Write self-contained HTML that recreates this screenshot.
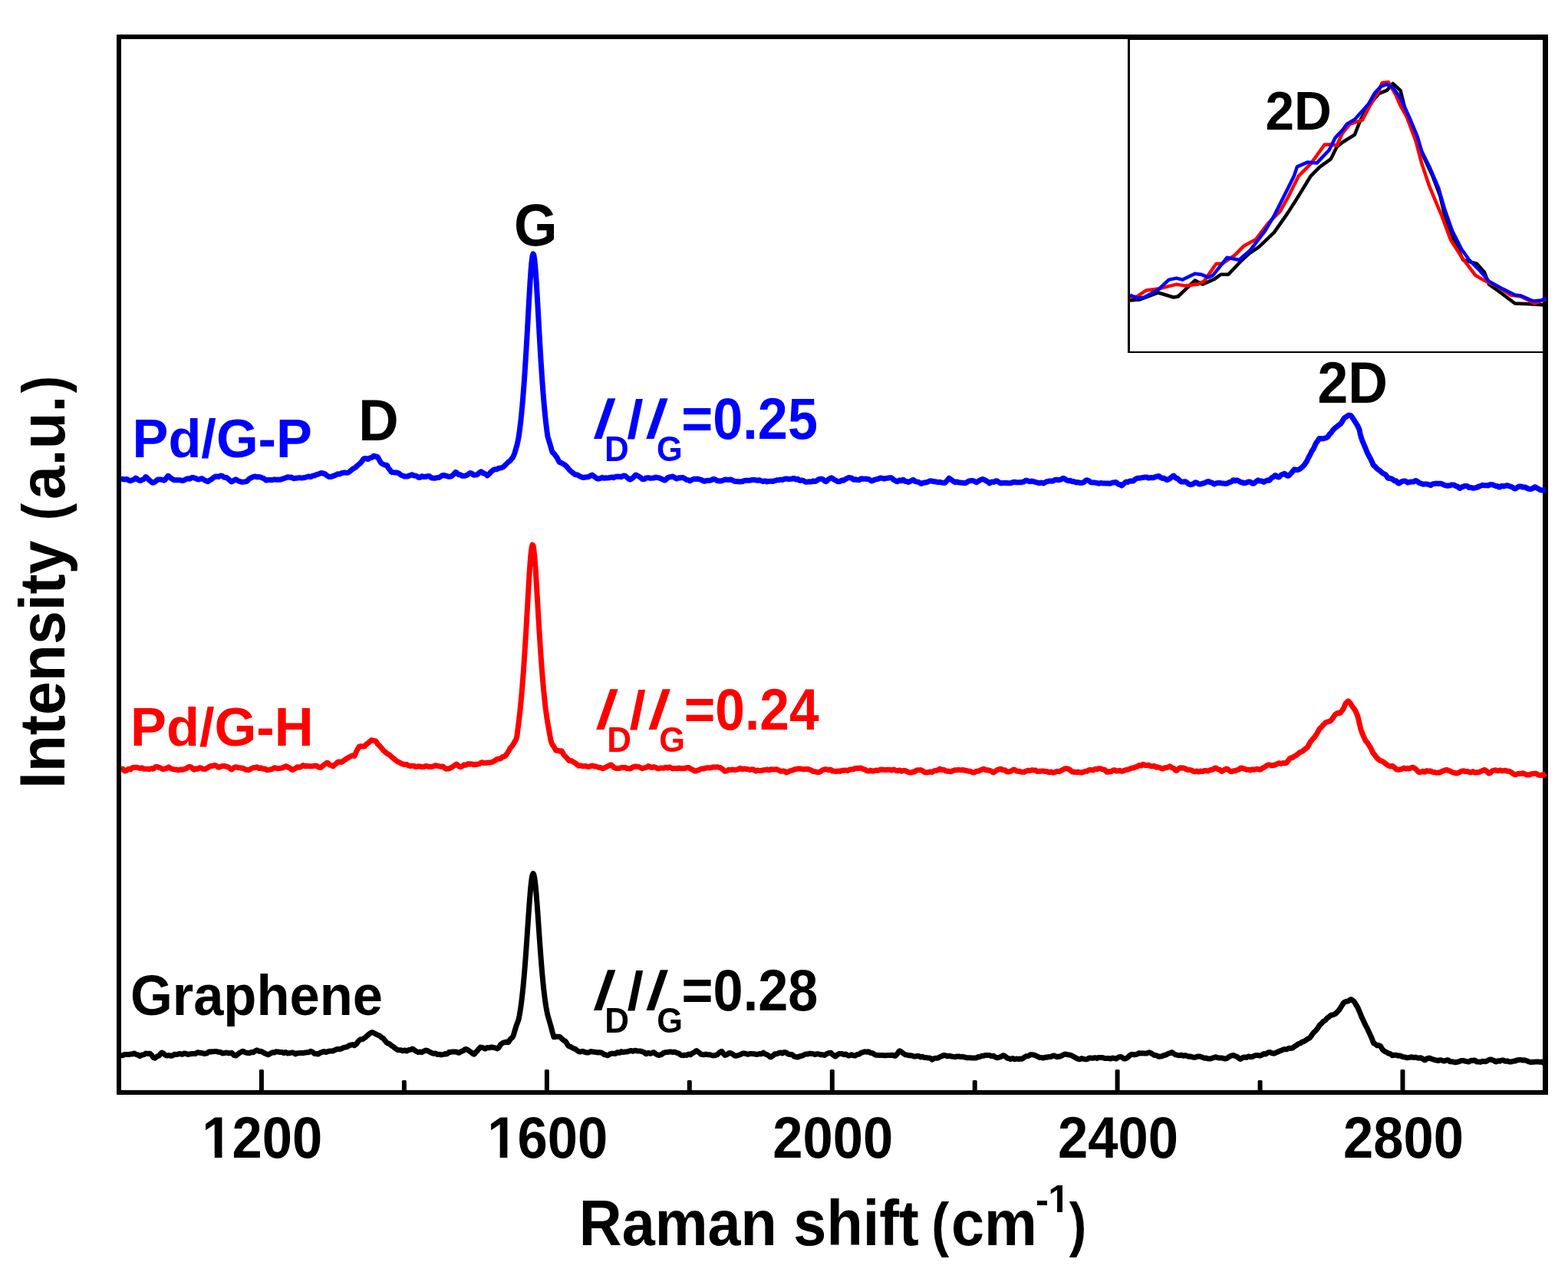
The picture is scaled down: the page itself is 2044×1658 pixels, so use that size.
<!DOCTYPE html>
<html><head><meta charset="utf-8"><title>Raman spectra</title>
<style>html,body{margin:0;padding:0;background:#fff;overflow:hidden}svg{display:block}text{font-family:"Liberation Sans",Arial,sans-serif;font-weight:bold;font-kerning:none;font-variant-ligatures:none}</style></head><body>
<svg width="2044" height="1658" viewBox="0 0 2044 1658">
<rect x="0" y="0" width="2044" height="1658" fill="#fff"/>
<rect x="152" y="45" width="6" height="1382" fill="#000"/>
<rect x="2011" y="45" width="7" height="1382" fill="#000"/>
<rect x="152" y="45" width="1866" height="6" fill="#000"/>
<rect x="152" y="1421" width="1866" height="6" fill="#000"/>
<rect x="337.9" y="1394" width="6" height="28" rx="1.5" fill="#000"/>
<rect x="709.9" y="1394" width="6" height="28" rx="1.5" fill="#000"/>
<rect x="1081.8" y="1394" width="6" height="28" rx="1.5" fill="#000"/>
<rect x="1453.6" y="1394" width="6" height="28" rx="1.5" fill="#000"/>
<rect x="1825.5" y="1394" width="6" height="28" rx="1.5" fill="#000"/>
<rect x="523.9" y="1408" width="6" height="14" rx="1.5" fill="#000"/>
<rect x="895.8" y="1408" width="6" height="14" rx="1.5" fill="#000"/>
<rect x="1267.7" y="1408" width="6" height="14" rx="1.5" fill="#000"/>
<rect x="1639.6" y="1408" width="6" height="14" rx="1.5" fill="#000"/>
<rect x="1470" y="49" width="3" height="411" fill="#000"/>
<rect x="1470" y="49" width="548" height="3" fill="#000"/>
<rect x="1470" y="458" width="548" height="2" fill="#000"/>
<path d="M158 624.7L159 624.6L160 624.5L161 624.7L162 624.9L163 624.9L164 624.7L165 624.5L166 625.0L167 625.5L168 626.0L169 626.5L170 626.8L171 626.4L172 626.0L173 625.6L174 625.1L175 624.7L176 623.9L177 623.1L178 623.6L179 624.6L180 625.5L181 625.9L182 626.3L183 626.4L184 626.3L185 625.5L186 625.1L187 624.7L188 623.9L189 622.7L190 621.5L191 622.1L192 623.1L193 624.1L194 625.2L195 626.2L196 627.0L197 627.8L198 628.8L199 629.2L200 629.0L201 628.5L202 628.0L203 627.3L204 626.5L205 625.6L206 625.0L207 624.9L208 625.0L209 625.1L210 625.1L211 625.3L212 625.5L213 625.9L214 626.2L215 625.5L216 624.2L217 623.0L218 621.6L219 620.4L220 620.7L221 621.7L222 622.6L223 623.4L224 624.0L225 624.6L226 625.3L227 625.7L228 625.8L229 625.8L230 625.8L231 625.7L232 625.7L233 625.7L234 625.7L235 625.8L236 626.1L237 626.5L238 626.5L239 626.3L240 626.1L241 625.5L242 624.8L243 624.3L244 624.1L245 623.8L246 624.0L247 624.2L248 623.9L249 623.2L250 622.5L251 622.5L252 622.6L253 623.0L254 623.2L255 623.4L256 623.9L257 624.5L258 624.9L259 625.1L260 624.6L261 624.3L262 623.9L263 623.7L264 624.0L265 624.8L266 625.4L267 626.0L268 626.5L269 626.9L270 627.3L271 627.7L272 626.9L273 626.3L274 625.7L275 625.2L276 624.4L277 623.7L278 622.9L279 622.2L280 621.5L281 621.1L282 621.1L283 621.2L284 621.3L285 621.4L286 620.8L287 620.2L288 620.1L289 620.3L290 620.6L291 621.4L292 622.1L293 622.5L294 622.4L295 622.3L296 622.9L297 623.9L298 624.8L299 625.6L300 626.4L301 627.3L302 627.9L303 627.4L304 626.7L305 625.9L306 625.5L307 625.1L308 625.1L309 625.8L310 626.6L311 626.9L312 627.3L313 627.6L314 628.0L315 628.3L316 628.3L317 628.3L318 628.1L319 627.9L320 627.7L321 627.7L322 627.2L323 626.3L324 625.1L325 623.9L326 623.5L327 623.0L328 622.5L329 621.9L330 621.6L331 621.3L332 621.0L333 621.0L334 621.3L335 621.7L336 621.7L337 621.6L338 621.7L339 621.9L340 622.2L341 622.5L342 622.9L343 623.3L344 623.9L345 624.4L346 625.5L347 625.9L348 626.0L349 625.7L350 625.5L351 625.5L352 625.6L353 625.6L354 625.7L355 625.7L356 625.4L357 625.1L358 625.0L359 625.1L360 625.2L361 625.3L362 625.3L363 625.1L364 625.2L365 625.3L366 625.0L367 624.7L368 624.4L369 624.0L370 623.6L371 623.3L372 623.1L373 622.7L374 622.2L375 621.7L376 621.9L377 622.2L378 622.3L379 622.2L380 622.0L381 622.7L382 623.4L383 623.7L384 623.6L385 623.2L386 623.2L387 623.2L388 623.1L389 622.9L390 622.7L391 622.8L392 622.9L393 622.9L394 622.9L395 622.8L396 622.7L397 622.5L398 622.3L399 622.0L400 621.6L401 621.4L402 621.1L403 621.1L404 621.4L405 621.6L406 621.1L407 620.5L408 620.1L409 620.1L410 620.0L411 619.4L412 618.8L413 618.5L414 618.3L415 618.1L416 617.6L417 617.1L418 616.8L419 616.6L420 616.7L421 617.0L422 617.2L423 617.5L424 618.0L425 619.1L426 619.7L427 620.3L428 621.0L429 621.6L430 621.6L431 621.4L432 621.3L433 621.0L434 620.5L435 620.1L436 619.8L437 619.5L438 619.0L439 618.4L440 617.8L441 617.9L442 618.0L443 617.8L444 617.3L445 616.8L446 616.6L447 616.3L448 616.1L449 616.1L450 616.1L451 616.2L452 616.3L453 616.2L454 615.9L455 615.4L456 614.5L457 613.5L458 612.7L459 611.9L460 611.2L461 610.6L462 610.1L463 609.5L464 608.8L465 607.7L466 606.8L467 605.9L468 605.0L469 604.3L470 603.5L471 602.2L472 600.9L473 599.5L474 598.2L475 597.7L476 597.5L477 597.4L478 597.6L479 598.3L480 598.6L481 597.8L482 597.1L483 596.6L484 596.4L485 596.2L486 595.2L487 594.2L488 594.3L489 594.8L490 595.3L491 594.9L492 595.5L493 596.9L494 598.7L495 600.5L496 602.4L497 603.5L498 604.3L499 604.8L500 605.3L501 605.8L502 606.2L503 606.4L504 606.3L505 607.2L506 609.9L507 610.9L508 612.1L509 613.6L510 615.1L511 615.6L512 615.6L513 615.7L514 615.9L515 616.1L516 616.0L517 616.0L518 616.2L519 616.5L520 616.9L521 617.7L522 618.6L523 619.3L524 619.7L525 620.1L526 620.5L527 620.9L528 621.0L529 621.0L530 620.9L531 621.1L532 620.9L533 620.2L534 619.9L535 619.6L536 619.0L537 618.7L538 619.2L539 619.6L540 620.1L541 620.1L542 620.2L543 620.6L544 621.2L545 621.8L546 622.4L547 622.5L548 622.1L549 621.4L550 620.7L551 621.0L552 621.4L553 621.4L554 621.3L555 621.4L556 621.1L557 620.8L558 620.6L559 620.7L560 620.8L561 621.7L562 622.6L563 623.1L564 623.1L565 623.2L566 623.2L567 623.2L568 623.1L569 622.8L570 622.5L571 622.5L572 622.5L573 622.2L574 621.5L575 620.7L576 620.2L577 619.7L578 619.4L579 619.5L580 620.0L581 620.1L582 620.3L583 620.6L584 621.1L585 621.2L586 621.2L587 621.2L588 620.9L589 620.3L590 619.6L591 618.6L592 617.5L593 616.4L594 615.4L595 615.8L596 617.0L597 618.1L598 618.7L599 618.7L600 618.7L601 619.4L602 620.1L603 620.4L604 620.3L605 620.2L606 620.3L607 620.0L608 619.6L609 619.1L610 618.6L611 617.8L612 616.9L613 616.6L614 616.9L615 617.2L616 618.1L617 618.9L618 619.3L619 619.1L620 618.9L621 618.9L622 618.7L623 618.0L624 616.9L625 615.8L626 615.3L627 614.7L628 615.2L629 616.1L630 616.9L631 617.1L632 617.4L633 618.0L634 618.9L635 619.9L636 619.1L637 618.4L638 617.5L639 616.2L640 615.0L641 614.2L642 613.4L643 612.6L644 612.1L645 611.7L646 611.7L647 611.8L648 611.5L649 610.9L650 610.3L651 610.2L652 610.1L653 609.9L654 609.5L655 609.2L656 608.7L657 607.9L658 606.8L659 605.9L660 604.9L661 603.9L662 602.9L663 602.0L664 601.2L665 600.4L666 599.2L667 597.9L668 596.9L669 595.2L670 593.1L671 590.4L672 586.8L673 583.5L674 580.1L675 575.4L676 570.5L677 563.8L678 556.0L679 547.3L680 537.5L681 526.6L682 514.6L683 501.5L684 487.2L685 471.8L686 455.4L687 438.2L688 420.3L689 402.2L690 384.5L691 367.8L692 353.2L693 341.6L694 333.9L695 330.9L696 332.9L697 339.7L698 350.6L699 364.7L700 381.0L701 398.6L702 416.7L703 434.6L704 452.0L705 468.6L706 484.2L707 498.7L708 512.1L709 524.3L710 535.4L711 545.4L712 554.3L713 562.3L714 569.3L715 572.4L716 575.7L717 579.1L718 582.5L719 586.0L720 589.2L721 590.3L722 591.1L723 592.3L724 593.7L725 595.1L726 596.2L727 598.3L728 600.3L729 602.2L730 602.9L731 603.1L732 603.4L733 604.0L734 604.7L735 605.1L736 605.8L737 606.6L738 607.3L739 608.5L740 609.7L741 610.9L742 612.2L743 613.2L744 614.1L745 615.0L746 615.7L747 616.5L748 617.3L749 618.1L750 618.8L751 618.8L752 618.8L753 619.1L754 619.7L755 620.4L756 620.9L757 621.3L758 621.8L759 622.2L760 622.5L761 622.4L762 622.2L763 622.0L764 621.9L765 621.8L766 621.8L767 621.7L768 621.2L769 620.5L770 619.9L771 619.5L772 619.1L773 619.9L774 620.6L775 621.4L776 622.1L777 622.8L778 623.7L779 623.9L780 624.2L781 623.9L782 623.6L783 623.3L784 622.8L785 622.3L786 622.8L787 623.2L788 623.3L789 623.0L790 622.8L791 622.9L792 623.1L793 623.0L794 622.7L795 622.5L796 622.3L797 622.1L798 622.1L799 622.4L800 622.7L801 622.1L802 621.5L803 621.2L804 621.2L805 621.1L806 621.2L807 621.2L808 621.3L809 621.5L810 621.7L811 621.0L812 620.4L813 620.1L814 620.2L815 620.2L816 621.1L817 622.0L818 622.9L819 623.8L820 624.6L821 625.0L822 625.0L823 624.0L824 623.5L825 622.9L826 621.8L827 620.6L828 619.5L829 619.1L830 619.7L831 620.2L832 620.7L833 621.2L834 621.8L835 622.3L836 623.4L837 624.4L838 624.7L839 624.6L840 624.6L841 623.9L842 623.2L843 622.9L844 622.8L845 622.7L846 622.9L847 623.2L848 623.3L849 623.2L850 623.2L851 623.1L852 623.1L853 622.8L854 622.3L855 622.1L856 622.4L857 622.6L858 622.8L859 623.0L860 623.1L861 623.6L862 624.1L863 624.6L864 625.0L865 625.4L866 626.0L867 625.9L868 625.2L869 624.1L870 623.0L871 622.5L872 622.1L873 621.8L874 621.7L875 621.6L876 621.1L877 621.1L878 621.8L879 622.2L880 622.7L881 623.5L882 624.0L883 623.6L884 623.2L885 622.8L886 622.8L887 622.9L888 622.7L889 622.4L890 622.5L891 623.0L892 623.4L893 624.0L894 624.8L895 625.5L896 625.6L897 625.7L898 626.1L899 626.7L900 626.7L901 626.0L902 625.4L903 624.9L904 624.5L905 624.2L906 624.3L907 624.4L908 624.3L909 624.1L910 624.5L911 624.6L912 624.8L913 625.1L914 625.4L915 625.8L916 626.4L917 627.0L918 627.3L919 627.2L920 626.7L921 626.5L922 626.4L923 626.3L924 626.4L925 626.5L926 626.2L927 625.9L928 625.3L929 624.8L930 624.4L931 624.6L932 624.8L933 625.3L934 626.0L935 626.8L936 626.8L937 626.8L938 627.0L939 627.0L940 627.0L941 626.7L942 626.3L943 626.0L944 625.6L945 625.2L946 625.1L947 625.1L948 625.3L949 625.4L950 625.5L951 625.3L952 625.0L953 625.1L954 625.6L955 626.1L956 626.6L957 627.1L958 627.4L959 627.4L960 627.5L961 627.6L962 627.7L963 627.8L964 627.9L965 627.8L966 627.8L967 627.7L968 627.5L969 627.0L970 626.4L971 626.4L972 626.3L973 626.3L974 626.3L975 626.3L976 626.3L977 626.3L978 626.1L979 625.8L980 625.5L981 625.5L982 625.4L983 625.5L984 625.6L985 625.8L986 626.0L987 626.2L988 626.2L989 626.0L990 625.8L991 626.2L992 626.7L993 627.0L994 627.3L995 627.6L996 627.2L997 626.9L998 627.0L999 627.5L1000 628.0L1001 627.7L1002 627.4L1003 627.3L1004 627.3L1005 627.2L1006 627.3L1007 627.5L1008 627.3L1009 627.0L1010 626.6L1011 626.3L1012 626.0L1013 625.8L1014 625.8L1015 625.8L1016 625.5L1017 625.2L1018 625.2L1019 625.3L1020 625.4L1021 625.0L1022 624.6L1023 624.3L1024 624.1L1025 623.9L1026 624.2L1027 624.5L1028 624.6L1029 624.5L1030 624.4L1031 624.3L1032 624.2L1033 624.0L1034 623.7L1035 623.4L1036 623.9L1037 624.8L1038 625.0L1039 624.7L1040 624.3L1041 625.2L1042 626.1L1043 626.4L1044 626.2L1045 626.0L1046 626.2L1047 626.4L1048 626.9L1049 627.6L1050 628.2L1051 628.2L1052 628.2L1053 628.1L1054 627.9L1055 627.8L1056 627.9L1057 628.1L1058 627.9L1059 627.4L1060 626.8L1061 627.3L1062 627.6L1063 627.4L1064 626.8L1065 626.2L1066 625.6L1067 624.9L1068 624.5L1069 624.4L1070 624.2L1071 624.3L1072 624.4L1073 625.0L1074 626.0L1075 627.0L1076 627.3L1077 627.7L1078 626.8L1079 625.8L1080 624.8L1081 624.2L1082 623.7L1083 623.1L1084 622.8L1085 623.5L1086 624.2L1087 624.9L1088 625.5L1089 626.0L1090 626.4L1091 627.1L1092 627.7L1093 627.8L1094 627.6L1095 627.5L1096 626.9L1097 626.2L1098 626.0L1099 626.1L1100 626.2L1101 625.4L1102 624.7L1103 624.1L1104 623.6L1105 623.0L1106 622.7L1107 622.5L1108 622.8L1109 622.9L1110 622.9L1111 623.9L1112 624.8L1113 625.2L1114 625.0L1115 624.8L1116 625.2L1117 625.3L1118 625.4L1119 625.6L1120 625.7L1121 624.9L1122 624.1L1123 623.8L1124 624.0L1125 624.2L1126 624.2L1127 624.3L1128 624.2L1129 624.0L1130 624.4L1131 624.5L1132 624.5L1133 624.8L1134 625.5L1135 626.2L1136 627.0L1137 626.8L1138 626.4L1139 625.9L1140 625.3L1141 625.1L1142 624.9L1143 624.6L1144 624.4L1145 624.3L1146 623.7L1147 623.2L1148 623.0L1149 623.2L1150 623.4L1151 623.7L1152 624.1L1153 624.1L1154 623.7L1155 623.4L1156 623.3L1157 623.2L1158 623.1L1159 623.0L1160 622.8L1161 622.7L1162 622.8L1163 623.5L1164 624.5L1165 625.5L1166 625.9L1167 626.4L1168 627.1L1169 627.6L1170 627.8L1171 627.0L1172 626.2L1173 626.0L1174 626.4L1175 626.8L1176 626.0L1177 625.2L1178 625.6L1179 626.5L1180 627.4L1181 627.5L1182 627.6L1183 628.0L1184 628.5L1185 628.3L1186 627.7L1187 627.1L1188 626.6L1189 626.0L1190 625.4L1191 625.7L1192 626.8L1193 627.4L1194 627.7L1195 627.9L1196 628.1L1197 628.3L1198 628.7L1199 629.5L1200 630.2L1201 630.4L1202 629.8L1203 629.4L1204 629.3L1205 629.1L1206 629.0L1207 628.8L1208 628.6L1209 628.3L1210 628.0L1211 627.3L1212 626.9L1213 626.8L1214 626.9L1215 627.1L1216 627.3L1217 627.6L1218 627.7L1219 627.8L1220 627.9L1221 628.2L1222 628.5L1223 628.6L1224 628.5L1225 628.3L1226 628.6L1227 628.9L1228 629.1L1229 629.2L1230 629.2L1231 629.4L1232 629.3L1233 628.1L1234 627.0L1235 625.9L1236 624.6L1237 623.2L1238 623.8L1239 624.5L1240 625.3L1241 626.0L1242 626.7L1243 627.4L1244 628.0L1245 628.7L1246 628.5L1247 628.1L1248 628.1L1249 628.5L1250 628.9L1251 629.0L1252 629.1L1253 629.2L1254 629.2L1255 629.2L1256 629.5L1257 629.7L1258 629.7L1259 629.5L1260 628.8L1261 628.2L1262 627.6L1263 627.1L1264 626.7L1265 626.7L1266 626.6L1267 626.5L1268 626.6L1269 626.9L1270 627.1L1271 627.7L1272 628.4L1273 628.7L1274 628.1L1275 627.5L1276 626.8L1277 626.1L1278 625.6L1279 625.2L1280 624.8L1281 624.5L1282 624.8L1283 625.4L1284 625.9L1285 626.5L1286 627.0L1287 627.5L1288 628.2L1289 629.1L1290 629.9L1291 629.2L1292 628.3L1293 628.0L1294 628.2L1295 628.5L1296 628.0L1297 627.5L1298 626.9L1299 626.7L1300 627.1L1301 627.8L1302 628.4L1303 629.1L1304 629.7L1305 629.9L1306 629.7L1307 629.5L1308 629.4L1309 629.4L1310 629.4L1311 629.4L1312 629.5L1313 629.5L1314 629.7L1315 629.8L1316 629.8L1317 629.8L1318 629.6L1319 629.1L1320 628.7L1321 628.5L1322 628.3L1323 628.3L1324 628.5L1325 628.7L1326 628.8L1327 628.8L1328 628.8L1329 628.7L1330 628.6L1331 628.8L1332 628.5L1333 628.3L1334 628.1L1335 628.0L1336 626.9L1337 626.3L1338 626.2L1339 626.5L1340 626.8L1341 627.2L1342 627.7L1343 627.7L1344 627.4L1345 627.0L1346 627.3L1347 627.6L1348 627.9L1349 628.2L1350 628.4L1351 628.7L1352 629.0L1353 629.3L1354 629.5L1355 629.7L1356 629.4L1357 629.1L1358 629.2L1359 629.7L1360 630.0L1361 629.5L1362 628.9L1363 628.4L1364 628.0L1365 627.6L1366 627.4L1367 627.2L1368 627.1L1369 627.1L1370 627.1L1371 627.2L1372 627.2L1373 626.9L1374 626.2L1375 625.4L1376 625.3L1377 625.2L1378 625.3L1379 625.5L1380 625.7L1381 625.6L1382 625.4L1383 625.0L1384 624.3L1385 623.7L1386 623.4L1387 623.6L1388 624.1L1389 624.9L1390 625.7L1391 626.1L1392 626.6L1393 626.7L1394 626.5L1395 626.3L1396 626.9L1397 627.4L1398 627.7L1399 627.6L1400 627.6L1401 628.1L1402 628.7L1403 628.9L1404 628.7L1405 628.6L1406 628.8L1407 629.1L1408 629.4L1409 629.5L1410 629.3L1411 629.2L1412 629.1L1413 628.5L1414 627.5L1415 626.4L1416 626.0L1417 625.8L1418 626.2L1419 626.7L1420 627.1L1421 627.9L1422 628.7L1423 629.0L1424 629.0L1425 628.9L1426 629.1L1427 629.1L1428 629.2L1429 629.4L1430 629.5L1431 629.9L1432 630.2L1433 630.2L1434 629.8L1435 629.4L1436 629.6L1437 629.8L1438 629.9L1439 629.9L1440 630.0L1441 630.0L1442 630.1L1443 630.1L1444 630.1L1445 630.1L1446 630.2L1447 630.3L1448 630.1L1449 629.5L1450 628.9L1451 628.9L1452 629.0L1453 628.8L1454 628.5L1455 628.7L1456 629.6L1457 630.6L1458 631.2L1459 631.3L1460 631.4L1461 632.3L1462 633.0L1463 632.4L1464 631.5L1465 630.6L1466 629.6L1467 628.6L1468 628.1L1469 628.2L1470 628.5L1471 627.9L1472 627.3L1473 627.0L1474 627.1L1475 627.2L1476 627.1L1477 627.1L1478 626.5L1479 625.5L1480 624.5L1481 624.1L1482 623.6L1483 623.2L1484 623.2L1485 623.3L1486 623.1L1487 622.9L1488 622.8L1489 622.6L1490 622.5L1491 622.3L1492 622.1L1493 622.0L1494 622.0L1495 622.0L1496 622.5L1497 623.0L1498 623.1L1499 622.8L1500 622.5L1501 622.6L1502 622.7L1503 622.7L1504 622.5L1505 622.1L1506 621.7L1507 621.4L1508 621.1L1509 620.8L1510 620.6L1511 620.7L1512 621.7L1513 622.4L1514 622.9L1515 623.4L1516 623.4L1517 623.3L1518 623.7L1519 624.3L1520 625.0L1521 625.6L1522 625.5L1523 624.9L1524 624.4L1525 623.8L1526 622.9L1527 622.1L1528 621.3L1529 620.6L1530 620.0L1531 621.1L1532 622.4L1533 623.2L1534 623.4L1535 623.7L1536 624.7L1537 625.6L1538 626.6L1539 627.5L1540 627.9L1541 627.9L1542 628.0L1543 627.9L1544 627.8L1545 627.7L1546 628.1L1547 628.8L1548 629.7L1549 630.5L1550 631.2L1551 631.5L1552 631.8L1553 631.4L1554 631.2L1555 631.0L1556 630.2L1557 629.5L1558 628.8L1559 628.9L1560 629.1L1561 629.8L1562 630.5L1563 630.9L1564 630.9L1565 631.0L1566 630.8L1567 630.5L1568 630.0L1569 629.9L1570 629.7L1571 629.2L1572 628.7L1573 628.2L1574 627.9L1575 627.5L1576 627.7L1577 628.4L1578 628.8L1579 629.0L1580 629.2L1581 629.9L1582 630.6L1583 631.1L1584 630.5L1585 629.9L1586 629.8L1587 629.6L1588 629.6L1589 629.6L1590 629.6L1591 629.6L1592 629.8L1593 629.9L1594 629.9L1595 630.0L1596 630.2L1597 630.5L1598 630.5L1599 630.2L1600 630.0L1601 629.4L1602 628.8L1603 628.4L1604 628.3L1605 628.1L1606 627.1L1607 626.1L1608 625.7L1609 626.2L1610 626.8L1611 626.4L1612 626.0L1613 626.1L1614 626.6L1615 627.1L1616 627.6L1617 628.3L1618 628.7L1619 628.8L1620 629.0L1621 629.8L1622 629.7L1623 629.5L1624 629.3L1625 629.1L1626 628.5L1627 627.9L1628 628.0L1629 628.1L1630 628.2L1631 629.0L1632 629.8L1633 630.2L1634 630.3L1635 629.7L1636 628.9L1637 628.1L1638 627.3L1639 626.6L1640 625.9L1641 626.3L1642 626.8L1643 627.1L1644 627.1L1645 627.1L1646 627.7L1647 628.3L1648 628.2L1649 627.5L1650 626.8L1651 626.5L1652 626.1L1653 626.1L1654 626.2L1655 626.0L1656 624.8L1657 623.6L1658 622.7L1659 622.2L1660 621.7L1661 620.6L1662 619.6L1663 619.8L1664 620.6L1665 621.3L1666 621.8L1667 622.0L1668 621.2L1669 620.1L1670 619.0L1671 618.7L1672 618.3L1673 617.9L1674 617.3L1675 617.6L1676 618.5L1677 619.5L1678 620.0L1679 620.2L1680 620.1L1681 619.1L1682 618.0L1683 616.9L1684 615.8L1685 614.6L1686 613.3L1687 611.9L1688 611.9L1689 612.2L1690 612.6L1691 612.4L1692 612.3L1693 612.0L1694 611.6L1695 610.9L1696 610.0L1697 609.2L1698 608.3L1699 607.4L1700 606.4L1701 604.9L1702 603.4L1703 602.0L1704 600.2L1705 597.9L1706 596.0L1707 594.2L1708 592.2L1709 590.2L1710 588.1L1711 586.7L1712 585.3L1713 583.2L1714 580.9L1715 578.7L1716 576.8L1717 575.8L1718 574.4L1719 572.5L1720 571.4L1721 571.6L1722 571.7L1723 571.8L1724 571.7L1725 571.7L1726 571.5L1727 571.2L1728 570.9L1729 570.5L1730 570.1L1731 569.2L1732 567.7L1733 566.3L1734 565.3L1735 564.3L1736 562.9L1737 561.4L1738 560.2L1739 559.1L1740 558.1L1741 557.4L1742 556.6L1743 555.9L1744 555.1L1745 554.2L1746 553.6L1747 553.0L1748 552.0L1749 550.5L1750 548.8L1751 547.1L1752 545.3L1753 544.4L1754 543.9L1755 543.4L1756 542.5L1757 541.7L1758 541.3L1759 541.2L1760 541.2L1761 541.8L1762 542.9L1763 544.5L1764 546.0L1765 547.4L1766 549.0L1767 550.6L1768 552.2L1769 553.8L1770 555.5L1771 557.7L1772 559.9L1773 565.0L1774 569.0L1775 571.9L1776 574.8L1777 577.1L1778 579.5L1779 581.9L1780 584.2L1781 586.8L1782 589.3L1783 591.4L1784 593.2L1785 595.0L1786 597.0L1787 598.9L1788 601.0L1789 603.2L1790 605.5L1791 607.1L1792 607.6L1793 608.5L1794 609.8L1795 611.0L1796 611.7L1797 612.3L1798 613.0L1799 613.8L1800 614.5L1801 615.6L1802 616.5L1803 617.2L1804 617.5L1805 617.9L1806 618.5L1807 619.7L1808 621.2L1809 622.8L1810 623.5L1811 623.5L1812 623.5L1813 623.7L1814 624.1L1815 624.5L1816 625.3L1817 626.3L1818 626.8L1819 626.8L1820 626.8L1821 628.0L1822 629.3L1823 630.0L1824 630.0L1825 629.1L1826 628.5L1827 627.9L1828 627.4L1829 627.2L1830 626.9L1831 627.0L1832 627.1L1833 627.6L1834 628.3L1835 629.1L1836 628.7L1837 628.4L1838 628.3L1839 628.2L1840 627.9L1841 628.0L1842 628.1L1843 627.8L1844 627.2L1845 626.5L1846 626.5L1847 627.1L1848 627.8L1849 628.6L1850 629.4L1851 629.7L1852 629.9L1853 630.4L1854 630.8L1855 631.2L1856 631.1L1857 631.0L1858 630.9L1859 631.0L1860 631.1L1861 631.2L1862 631.4L1863 631.8L1864 632.2L1865 632.6L1866 631.9L1867 631.2L1868 630.8L1869 630.6L1870 630.4L1871 630.3L1872 630.2L1873 630.2L1874 630.3L1875 630.4L1876 630.3L1877 630.3L1878 630.3L1879 630.6L1880 630.9L1881 631.4L1882 631.9L1883 632.3L1884 632.6L1885 632.9L1886 633.0L1887 633.2L1888 633.1L1889 633.0L1890 632.8L1891 632.5L1892 632.1L1893 632.0L1894 632.0L1895 632.1L1896 632.5L1897 633.0L1898 633.6L1899 633.9L1900 634.2L1901 635.1L1902 635.9L1903 636.5L1904 635.9L1905 635.0L1906 634.7L1907 634.5L1908 634.1L1909 633.5L1910 633.5L1911 633.4L1912 633.4L1913 633.8L1914 634.7L1915 635.6L1916 635.5L1917 635.5L1918 635.6L1919 635.9L1920 636.2L1921 636.3L1922 636.1L1923 635.9L1924 635.7L1925 635.4L1926 635.0L1927 634.5L1928 634.0L1929 633.7L1930 633.4L1931 632.9L1932 632.5L1933 632.3L1934 632.6L1935 632.8L1936 632.8L1937 632.8L1938 632.8L1939 632.8L1940 632.9L1941 632.4L1942 631.8L1943 631.6L1944 631.7L1945 631.7L1946 631.8L1947 632.3L1948 632.8L1949 633.2L1950 633.7L1951 633.6L1952 633.6L1953 634.1L1954 634.8L1955 635.1L1956 634.4L1957 633.6L1958 633.3L1959 633.7L1960 634.0L1961 633.7L1962 633.5L1963 633.2L1964 632.8L1965 632.7L1966 633.1L1967 633.5L1968 633.8L1969 634.1L1970 634.4L1971 634.9L1972 635.4L1973 636.0L1974 636.8L1975 637.1L1976 636.5L1977 635.9L1978 635.3L1979 634.7L1980 634.2L1981 634.0L1982 633.9L1983 634.1L1984 634.5L1985 635.0L1986 634.9L1987 634.9L1988 635.0L1989 635.5L1990 636.0L1991 636.5L1992 637.0L1993 637.3L1994 637.4L1995 637.5L1996 637.3L1997 637.0L1998 636.6L1999 635.9L2000 635.2L2001 634.7L2002 635.2L2003 635.8L2004 636.3L2005 636.8L2006 637.4L2007 638.1L2008 638.7L2009 639.0L2010 638.9L2011 638.8L2012 638.6L2013 638.6L2014 638.7L2015 638.8" fill="none" stroke="#0000ff" stroke-width="7" stroke-linejoin="round" stroke-linecap="butt"/>
<path d="M158 1002.1L159 1002.2L160 1002.3L161 1003.5L162 1004.7L163 1004.9L164 1004.6L165 1004.3L166 1003.4L167 1002.5L168 1002.2L169 1002.6L170 1002.9L171 1002.1L172 1001.2L173 1000.7L174 1000.5L175 1000.3L176 1000.3L177 1000.2L178 1000.2L179 1000.4L180 1000.9L181 1001.1L182 1001.4L183 1001.3L184 1001.0L185 1000.7L186 1001.3L187 1002.0L188 1002.2L189 1002.3L190 1002.3L191 1002.2L192 1002.2L193 1002.3L194 1002.5L195 1002.7L196 1002.2L197 1001.8L198 1001.8L199 1002.2L200 1002.2L201 1001.1L202 1000.1L203 999.4L204 999.4L205 999.7L206 1000.0L207 1000.2L208 1000.5L209 1000.9L210 1001.3L211 1001.8L212 1002.3L213 1002.7L214 1002.6L215 1002.0L216 1001.8L217 1001.6L218 1001.1L219 1000.3L220 999.8L221 1000.5L222 1001.2L223 1001.8L224 1002.2L225 1002.6L226 1002.7L227 1002.9L228 1003.1L229 1003.2L230 1003.1L231 1003.5L232 1003.8L233 1003.8L234 1003.4L235 1003.0L236 1003.1L237 1003.3L238 1003.2L239 1002.9L240 1002.7L241 1002.4L242 1002.0L243 1001.5L244 1000.8L245 1000.0L246 999.7L247 999.3L248 999.4L249 1000.0L250 1000.6L251 1001.7L252 1002.7L253 1003.3L254 1002.7L255 1001.8L256 1002.1L257 1002.4L258 1002.1L259 1001.5L260 1000.8L261 1000.7L262 1001.1L263 1001.4L264 1001.9L265 1002.3L266 1002.6L267 1002.5L268 1002.0L269 1001.7L270 1001.3L271 1000.5L272 999.8L273 999.2L274 998.8L275 998.4L276 998.4L277 998.4L278 998.2L279 997.7L280 997.4L281 997.8L282 998.2L283 998.9L284 1000.0L285 1000.1L286 999.8L287 999.5L288 999.2L289 998.8L290 998.4L291 998.5L292 998.6L293 998.5L294 998.9L295 999.3L296 999.5L297 999.7L298 1000.2L299 1001.0L300 1001.9L301 1002.5L302 1003.0L303 1002.4L304 1001.4L305 1000.5L306 1000.2L307 999.8L308 999.8L309 1000.2L310 1000.6L311 1000.7L312 1000.7L313 1000.8L314 1001.0L315 1001.2L316 1001.3L317 1001.5L318 1001.9L319 1002.6L320 1003.2L321 1003.3L322 1003.4L323 1003.5L324 1003.7L325 1003.3L326 1002.7L327 1002.1L328 1001.7L329 1001.2L330 1000.8L331 1000.7L332 1000.5L333 1000.3L334 1000.0L335 999.8L336 1000.5L337 1001.3L338 1001.5L339 1001.1L340 1000.7L341 1001.3L342 1002.0L343 1002.2L344 1002.0L345 1001.9L346 1002.6L347 1003.3L348 1003.7L349 1003.8L350 1003.4L351 1003.3L352 1003.1L353 1002.9L354 1002.6L355 1002.3L356 1001.7L357 1001.0L358 1000.7L359 1000.9L360 1001.2L361 1001.4L362 1001.7L363 1001.7L364 1001.6L365 1001.4L366 1001.3L367 1001.1L368 1001.0L369 1000.5L370 1000.0L371 999.5L372 999.0L373 998.7L374 999.0L375 1000.1L376 1000.3L377 1000.5L378 1001.1L379 1002.1L380 1003.1L381 1003.6L382 1003.2L383 1002.7L384 1002.2L385 1001.7L386 1000.9L387 1000.0L388 999.7L389 1000.0L390 1000.3L391 999.9L392 999.5L393 998.9L394 998.3L395 997.6L396 998.1L397 998.5L398 998.7L399 998.5L400 998.3L401 998.4L402 998.6L403 998.7L404 998.7L405 998.7L406 998.7L407 998.7L408 998.6L409 998.4L410 998.2L411 998.1L412 998.1L413 998.4L414 999.1L415 999.8L416 1000.1L417 1000.3L418 1000.3L419 999.9L420 998.8L421 998.0L422 997.2L423 996.5L424 995.8L425 995.1L426 994.3L427 994.3L428 995.1L429 996.2L430 997.2L431 997.4L432 997.6L433 998.1L434 998.8L435 998.0L436 997.2L437 996.4L438 995.5L439 994.5L440 993.4L441 993.2L442 993.0L443 993.0L444 993.3L445 993.5L446 992.9L447 992.4L448 991.6L449 990.8L450 990.0L451 989.3L452 988.7L453 988.1L454 987.5L455 987.1L456 986.5L457 985.9L458 985.4L459 985.0L460 984.7L461 985.0L462 985.4L463 983.5L464 981.0L465 978.5L466 976.9L467 975.3L468 973.5L469 973.0L470 972.7L471 972.8L472 973.0L473 973.0L474 973.0L475 972.9L476 972.0L477 970.7L478 969.8L479 969.1L480 968.5L481 967.6L482 966.7L483 965.8L484 964.8L485 965.0L486 965.2L487 965.4L488 965.6L489 965.9L490 966.2L491 967.7L492 969.3L493 970.6L494 971.4L495 972.2L496 973.6L497 974.7L498 975.8L499 977.1L500 978.4L501 979.2L502 980.0L503 980.8L504 981.7L505 982.6L506 983.0L507 983.4L508 984.1L509 985.1L510 986.1L511 987.0L512 987.7L513 988.5L514 989.4L515 990.3L516 991.1L517 991.9L518 992.6L519 993.0L520 993.4L521 994.0L522 994.7L523 995.2L524 995.6L525 995.9L526 996.3L527 996.5L528 996.6L529 996.5L530 996.3L531 997.0L532 997.7L533 998.1L534 998.3L535 998.5L536 998.4L537 998.2L538 998.2L539 998.3L540 998.5L541 999.0L542 999.5L543 999.6L544 999.2L545 998.8L546 998.9L547 999.0L548 999.1L549 999.4L550 999.7L551 999.6L552 999.6L553 999.3L554 998.8L555 998.3L556 998.6L557 998.9L558 999.2L559 999.2L560 999.3L561 999.4L562 999.4L563 999.3L564 999.1L565 998.8L566 998.3L567 997.8L568 997.8L569 998.0L570 998.2L571 998.4L572 998.7L573 998.9L574 999.2L575 999.5L576 999.2L577 999.0L578 999.5L579 1000.4L580 1001.2L581 1001.8L582 1002.3L583 1002.0L584 1002.0L585 1002.0L586 1001.6L587 1001.1L588 1000.6L589 1000.0L590 999.4L591 998.7L592 998.1L593 997.5L594 996.7L595 996.0L596 996.8L597 997.9L598 998.6L599 999.1L600 999.6L601 999.4L602 999.1L603 998.5L604 997.7L605 996.8L606 997.1L607 997.3L608 997.1L609 996.3L610 995.6L611 995.9L612 996.2L613 996.1L614 995.7L615 995.7L616 996.1L617 996.6L618 996.7L619 996.4L620 996.2L621 996.5L622 996.3L623 996.1L624 995.9L625 995.6L626 994.9L627 994.2L628 993.8L629 994.0L630 994.3L631 994.4L632 994.5L633 994.5L634 994.3L635 994.0L636 994.0L637 993.9L638 993.9L639 994.0L640 993.7L641 993.4L642 993.2L643 992.7L644 992.2L645 991.7L646 990.9L647 990.0L648 989.4L649 989.3L650 989.1L651 989.0L652 988.9L653 988.4L654 987.6L655 986.7L656 986.4L657 986.1L658 985.7L659 984.7L660 983.7L661 982.1L662 980.6L663 978.9L664 977.1L665 975.3L666 974.2L667 973.1L668 971.8L669 970.3L670 968.5L671 966.6L672 965.0L673 963.3L674 958.9L675 950.6L676 943.0L677 934.9L678 925.8L679 915.8L680 904.8L681 892.8L682 879.8L683 865.8L684 850.8L685 834.9L686 818.1L687 800.7L688 783.1L689 765.6L690 749.0L691 734.2L692 722.1L693 713.8L694 710.1L695 711.2L696 717.2L697 727.3L698 740.5L699 756.0L700 772.6L701 789.7L702 806.6L703 823.0L704 838.7L705 853.5L706 867.4L707 880.2L708 892.0L709 902.8L710 912.6L711 921.4L712 929.3L713 936.4L714 942.4L715 948.1L716 953.9L717 959.7L718 964.9L719 968.3L720 970.5L721 971.9L722 973.3L723 975.0L724 977.1L725 978.3L726 978.2L727 978.2L728 978.4L729 978.8L730 979.3L731 978.9L732 978.7L733 980.1L734 982.0L735 984.0L736 985.0L737 985.9L738 986.9L739 988.0L740 989.0L741 990.5L742 991.6L743 991.8L744 991.7L745 991.6L746 992.3L747 993.0L748 993.5L749 994.1L750 994.7L751 995.6L752 996.5L753 997.3L754 997.9L755 997.8L756 997.9L757 998.0L758 998.2L759 998.5L760 998.8L761 998.6L762 998.4L763 998.4L764 998.7L765 998.9L766 999.2L767 999.4L768 999.4L769 998.9L770 998.5L771 998.3L772 998.1L773 998.2L774 998.6L775 999.0L776 998.9L777 999.2L778 999.5L779 999.8L780 1000.2L781 1000.2L782 1000.2L783 1000.5L784 1001.1L785 1001.6L786 1001.7L787 1001.4L788 1000.9L789 1000.4L790 999.9L791 999.4L792 998.8L793 998.3L794 997.9L795 997.4L796 996.9L797 996.9L798 997.9L799 999.1L800 1000.3L801 1000.7L802 1001.1L803 1001.5L804 1001.5L805 1001.6L806 1001.5L807 1001.5L808 1001.3L809 1000.9L810 1000.6L811 1000.5L812 1000.5L813 1000.5L814 1000.4L815 1000.3L816 1000.9L817 1001.6L818 1001.8L819 1001.6L820 1001.4L821 1002.0L822 1001.9L823 1001.4L824 1000.6L825 999.8L826 999.6L827 999.3L828 998.9L829 998.9L830 999.3L831 999.3L832 999.4L833 999.6L834 1000.1L835 1000.6L836 1001.2L837 1001.7L838 1001.5L839 1001.2L840 1000.9L841 1000.7L842 1000.4L843 1000.0L844 999.3L845 998.6L846 999.0L847 999.5L848 1000.0L849 1000.2L850 1000.4L851 1000.0L852 999.7L853 999.8L854 1000.1L855 1000.5L856 1001.1L857 1001.6L858 1001.9L859 1001.7L860 1001.3L861 1001.2L862 1001.1L863 1001.1L864 1001.2L865 1001.3L866 1000.8L867 1000.3L868 1000.3L869 1000.7L870 1001.1L871 1000.4L872 1000.0L873 1000.1L874 1000.5L875 1000.9L876 1001.5L877 1001.7L878 1001.7L879 1001.6L880 1001.4L881 1001.6L882 1001.7L883 1001.6L884 1001.3L885 1001.0L886 1001.3L887 1001.6L888 1001.7L889 1001.5L890 1001.4L891 1001.6L892 1001.7L893 1001.6L894 1001.1L895 1000.7L896 1000.5L897 1000.4L898 1000.4L899 1001.2L900 1002.0L901 1002.4L902 1002.8L903 1003.3L904 1004.0L905 1004.8L906 1005.1L907 1005.1L908 1004.5L909 1004.3L910 1004.0L911 1003.6L912 1003.2L913 1002.7L914 1002.2L915 1002.1L916 1002.1L917 1002.0L918 1001.8L919 1001.4L920 1001.1L921 1000.9L922 1000.8L923 1000.7L924 1000.8L925 1000.9L926 1000.8L927 1000.6L928 1000.4L929 1000.1L930 999.7L931 999.9L932 1000.1L933 1000.1L934 999.9L935 999.7L936 1000.0L937 1000.3L938 1000.4L939 1000.7L940 1001.3L941 1002.0L942 1002.6L943 1003.5L944 1004.6L945 1005.3L946 1005.1L947 1004.9L948 1004.5L949 1003.8L950 1003.2L951 1003.4L952 1003.6L953 1003.6L954 1003.3L955 1003.1L956 1003.3L957 1003.4L958 1003.4L959 1003.4L960 1003.3L961 1003.1L962 1002.9L963 1002.4L964 1001.7L965 1001.2L966 1001.9L967 1002.6L968 1002.8L969 1002.3L970 1001.9L971 1002.1L972 1002.3L973 1002.5L974 1002.6L975 1002.7L976 1003.1L977 1003.5L978 1003.5L979 1003.2L980 1002.8L981 1002.9L982 1003.0L983 1003.5L984 1004.3L985 1005.1L986 1004.6L987 1004.1L988 1004.1L989 1004.5L990 1004.5L991 1004.5L992 1004.5L993 1004.3L994 1004.1L995 1003.8L996 1003.7L997 1003.6L998 1003.5L999 1003.3L1000 1003.0L1001 1003.4L1002 1003.8L1003 1003.7L1004 1003.2L1005 1002.7L1006 1002.9L1007 1003.0L1008 1003.0L1009 1002.9L1010 1002.9L1011 1002.9L1012 1002.8L1013 1003.0L1014 1003.4L1015 1003.8L1016 1004.4L1017 1005.0L1018 1005.3L1019 1005.2L1020 1005.1L1021 1005.0L1022 1005.0L1023 1005.4L1024 1006.3L1025 1007.1L1026 1006.9L1027 1006.2L1028 1005.7L1029 1005.3L1030 1004.8L1031 1004.6L1032 1004.4L1033 1004.1L1034 1003.6L1035 1003.2L1036 1002.7L1037 1002.7L1038 1002.6L1039 1002.3L1040 1002.0L1041 1001.9L1042 1001.9L1043 1002.0L1044 1002.2L1045 1002.3L1046 1002.6L1047 1002.8L1048 1002.9L1049 1002.7L1050 1002.6L1051 1002.5L1052 1002.5L1053 1002.6L1054 1002.8L1055 1003.0L1056 1003.3L1057 1003.8L1058 1004.3L1059 1004.9L1060 1005.5L1061 1005.6L1062 1005.8L1063 1005.9L1064 1006.1L1065 1006.4L1066 1006.7L1067 1006.6L1068 1006.4L1069 1005.8L1070 1005.3L1071 1004.7L1072 1004.0L1073 1003.5L1074 1003.2L1075 1002.8L1076 1002.8L1077 1002.7L1078 1003.2L1079 1003.5L1080 1003.8L1081 1003.4L1082 1003.0L1083 1003.3L1084 1004.2L1085 1005.1L1086 1005.1L1087 1005.1L1088 1005.2L1089 1005.5L1090 1005.4L1091 1005.3L1092 1005.1L1093 1005.1L1094 1005.2L1095 1005.4L1096 1005.0L1097 1004.6L1098 1004.3L1099 1004.3L1100 1004.2L1101 1004.1L1102 1004.1L1103 1004.1L1104 1004.3L1105 1004.4L1106 1004.0L1107 1003.5L1108 1003.1L1109 1002.9L1110 1002.8L1111 1002.8L1112 1002.8L1113 1002.6L1114 1002.0L1115 1001.5L1116 1001.5L1117 1001.5L1118 1001.3L1119 1001.3L1120 1001.4L1121 1001.2L1122 1001.1L1123 1001.3L1124 1001.8L1125 1002.3L1126 1002.6L1127 1003.0L1128 1003.4L1129 1004.0L1130 1004.5L1131 1004.8L1132 1005.1L1133 1005.1L1134 1004.7L1135 1004.1L1136 1004.6L1137 1005.1L1138 1005.2L1139 1004.9L1140 1004.6L1141 1004.3L1142 1004.1L1143 1004.1L1144 1004.2L1145 1004.3L1146 1003.8L1147 1003.3L1148 1003.1L1149 1003.1L1150 1003.2L1151 1003.2L1152 1003.4L1153 1003.5L1154 1003.5L1155 1003.6L1156 1003.4L1157 1003.3L1158 1003.3L1159 1003.3L1160 1003.4L1161 1003.6L1162 1003.9L1163 1003.8L1164 1003.4L1165 1003.0L1166 1003.4L1167 1003.9L1168 1004.3L1169 1004.5L1170 1004.7L1171 1004.3L1172 1003.9L1173 1004.0L1174 1004.7L1175 1005.3L1176 1004.9L1177 1004.5L1178 1004.4L1179 1004.5L1180 1004.5L1181 1004.9L1182 1005.4L1183 1005.8L1184 1006.3L1185 1006.7L1186 1006.9L1187 1007.0L1188 1007.0L1189 1006.7L1190 1006.1L1191 1006.0L1192 1005.8L1193 1005.3L1194 1004.6L1195 1003.9L1196 1003.8L1197 1003.8L1198 1003.7L1199 1003.7L1200 1003.6L1201 1004.0L1202 1004.3L1203 1004.9L1204 1005.6L1205 1006.4L1206 1006.7L1207 1006.9L1208 1007.0L1209 1006.8L1210 1006.7L1211 1006.4L1212 1006.1L1213 1006.1L1214 1006.3L1215 1006.5L1216 1005.9L1217 1005.2L1218 1004.7L1219 1004.6L1220 1004.6L1221 1004.3L1222 1004.0L1223 1003.5L1224 1002.8L1225 1002.1L1226 1002.6L1227 1003.4L1228 1003.6L1229 1003.4L1230 1003.2L1231 1003.8L1232 1004.4L1233 1004.8L1234 1005.0L1235 1005.2L1236 1005.2L1237 1005.3L1238 1005.4L1239 1005.6L1240 1005.8L1241 1005.2L1242 1004.7L1243 1004.3L1244 1004.0L1245 1003.8L1246 1003.8L1247 1003.7L1248 1003.7L1249 1003.5L1250 1003.4L1251 1003.6L1252 1003.8L1253 1003.8L1254 1003.6L1255 1003.5L1256 1003.7L1257 1004.0L1258 1004.2L1259 1004.3L1260 1004.4L1261 1004.8L1262 1005.1L1263 1005.2L1264 1005.3L1265 1005.3L1266 1005.8L1267 1006.4L1268 1006.8L1269 1007.1L1270 1007.0L1271 1006.3L1272 1005.6L1273 1005.2L1274 1005.2L1275 1005.3L1276 1004.8L1277 1004.3L1278 1003.9L1279 1003.5L1280 1003.1L1281 1002.7L1282 1002.3L1283 1002.4L1284 1003.1L1285 1003.8L1286 1003.7L1287 1003.7L1288 1003.8L1289 1004.1L1290 1004.3L1291 1004.7L1292 1005.0L1293 1005.7L1294 1006.6L1295 1006.9L1296 1006.3L1297 1005.6L1298 1005.0L1299 1004.3L1300 1003.6L1301 1003.2L1302 1002.9L1303 1002.6L1304 1002.3L1305 1002.5L1306 1003.0L1307 1003.5L1308 1003.8L1309 1003.8L1310 1003.8L1311 1004.6L1312 1005.5L1313 1006.1L1314 1006.1L1315 1005.8L1316 1005.7L1317 1005.5L1318 1005.1L1319 1004.4L1320 1003.7L1321 1003.3L1322 1003.0L1323 1003.4L1324 1004.2L1325 1005.0L1326 1005.1L1327 1005.2L1328 1005.3L1329 1005.5L1330 1005.7L1331 1006.2L1332 1006.3L1333 1006.3L1334 1006.3L1335 1006.4L1336 1005.8L1337 1005.3L1338 1004.9L1339 1004.6L1340 1004.2L1341 1004.4L1342 1004.6L1343 1004.5L1344 1004.1L1345 1003.7L1346 1003.8L1347 1003.9L1348 1004.0L1349 1004.0L1350 1004.1L1351 1004.8L1352 1005.4L1353 1005.6L1354 1005.4L1355 1005.2L1356 1005.2L1357 1005.2L1358 1005.1L1359 1005.1L1360 1005.0L1361 1005.2L1362 1005.5L1363 1005.6L1364 1005.6L1365 1005.6L1366 1006.2L1367 1006.8L1368 1006.8L1369 1006.3L1370 1005.9L1371 1006.4L1372 1006.9L1373 1007.0L1374 1006.8L1375 1006.5L1376 1006.1L1377 1005.7L1378 1005.5L1379 1005.6L1380 1005.6L1381 1005.6L1382 1005.2L1383 1004.7L1384 1004.1L1385 1003.6L1386 1003.0L1387 1002.4L1388 1002.0L1389 1001.7L1390 1001.7L1391 1001.9L1392 1002.1L1393 1002.5L1394 1003.0L1395 1003.6L1396 1004.5L1397 1005.4L1398 1006.1L1399 1006.2L1400 1006.1L1401 1006.3L1402 1006.6L1403 1006.6L1404 1006.3L1405 1006.0L1406 1006.3L1407 1006.6L1408 1006.8L1409 1006.9L1410 1007.1L1411 1006.7L1412 1006.3L1413 1006.1L1414 1005.7L1415 1005.3L1416 1005.3L1417 1005.2L1418 1004.8L1419 1004.0L1420 1003.4L1421 1003.5L1422 1003.6L1423 1003.7L1424 1003.8L1425 1003.9L1426 1003.3L1427 1002.6L1428 1002.4L1429 1002.5L1430 1002.7L1431 1002.3L1432 1001.8L1433 1001.7L1434 1001.8L1435 1001.9L1436 1002.3L1437 1002.8L1438 1003.1L1439 1003.2L1440 1003.2L1441 1004.4L1442 1005.6L1443 1006.3L1444 1006.3L1445 1005.6L1446 1005.8L1447 1006.1L1448 1005.9L1449 1005.3L1450 1004.7L1451 1004.2L1452 1003.7L1453 1003.7L1454 1004.4L1455 1005.0L1456 1004.9L1457 1004.8L1458 1004.7L1459 1004.5L1460 1004.3L1461 1004.8L1462 1005.3L1463 1005.3L1464 1005.0L1465 1004.4L1466 1004.1L1467 1003.8L1468 1003.5L1469 1003.3L1470 1003.1L1471 1002.8L1472 1002.5L1473 1002.1L1474 1001.6L1475 1001.2L1476 1001.1L1477 1001.1L1478 1000.8L1479 1000.3L1480 999.8L1481 999.6L1482 999.4L1483 998.9L1484 998.2L1485 997.5L1486 997.8L1487 998.1L1488 997.8L1489 996.9L1490 996.2L1491 996.7L1492 997.3L1493 997.5L1494 997.6L1495 997.6L1496 997.5L1497 997.3L1498 997.5L1499 998.2L1500 998.8L1501 998.8L1502 998.8L1503 998.7L1504 998.5L1505 998.5L1506 999.2L1507 999.9L1508 1000.2L1509 1000.1L1510 1000.0L1511 1000.3L1512 1000.6L1513 1001.1L1514 1001.6L1515 1002.1L1516 1002.0L1517 1001.4L1518 1000.9L1519 1000.7L1520 1000.5L1521 1000.4L1522 1000.2L1523 999.8L1524 999.2L1525 998.8L1526 999.5L1527 1000.2L1528 1000.8L1529 1001.1L1530 1001.4L1531 1002.6L1532 1003.8L1533 1004.5L1534 1004.4L1535 1003.5L1536 1002.6L1537 1001.6L1538 1001.0L1539 1000.7L1540 1001.2L1541 1001.1L1542 1000.9L1543 1001.1L1544 1001.5L1545 1002.0L1546 1002.5L1547 1002.9L1548 1003.3L1549 1003.4L1550 1003.6L1551 1003.6L1552 1003.7L1553 1004.0L1554 1004.4L1555 1004.9L1556 1005.4L1557 1005.8L1558 1005.8L1559 1005.3L1560 1004.9L1561 1005.4L1562 1005.9L1563 1005.9L1564 1005.4L1565 1005.0L1566 1005.3L1567 1005.6L1568 1005.5L1569 1005.1L1570 1004.5L1571 1004.6L1572 1004.6L1573 1004.7L1574 1004.9L1575 1005.0L1576 1004.4L1577 1003.9L1578 1003.6L1579 1003.6L1580 1003.4L1581 1002.8L1582 1002.2L1583 1001.6L1584 1000.9L1585 1001.0L1586 1001.7L1587 1002.4L1588 1002.9L1589 1003.1L1590 1003.3L1591 1004.2L1592 1005.1L1593 1005.4L1594 1004.7L1595 1004.0L1596 1003.5L1597 1003.0L1598 1002.3L1599 1002.0L1600 1002.3L1601 1003.2L1602 1004.1L1603 1004.8L1604 1005.3L1605 1005.8L1606 1005.6L1607 1005.1L1608 1004.8L1609 1004.7L1610 1004.7L1611 1004.3L1612 1003.9L1613 1003.6L1614 1003.3L1615 1002.9L1616 1002.1L1617 1001.3L1618 1000.9L1619 1000.9L1620 1001.7L1621 1001.8L1622 1002.0L1623 1002.3L1624 1002.8L1625 1003.3L1626 1003.2L1627 1003.2L1628 1003.3L1629 1003.6L1630 1003.9L1631 1003.5L1632 1003.0L1633 1002.9L1634 1003.1L1635 1003.3L1636 1003.0L1637 1002.7L1638 1002.6L1639 1002.6L1640 1002.6L1641 1002.9L1642 1003.2L1643 1003.0L1644 1002.4L1645 1001.7L1646 1001.2L1647 1000.6L1648 1000.0L1649 999.4L1650 998.8L1651 998.1L1652 997.5L1653 997.1L1654 997.0L1655 996.9L1656 997.3L1657 997.8L1658 997.9L1659 997.7L1660 997.5L1661 997.4L1662 997.0L1663 996.5L1664 995.9L1665 995.7L1666 995.2L1667 994.8L1668 994.7L1669 995.1L1670 995.5L1671 995.1L1672 994.7L1673 994.5L1674 994.7L1675 995.0L1676 994.7L1677 994.3L1678 993.0L1679 991.8L1680 990.5L1681 989.1L1682 988.3L1683 987.9L1684 987.7L1685 987.5L1686 986.7L1687 986.0L1688 985.4L1689 984.9L1690 984.4L1691 983.6L1692 982.8L1693 981.9L1694 981.1L1695 980.3L1696 980.0L1697 979.7L1698 979.2L1699 978.5L1700 977.3L1701 976.6L1702 975.9L1703 975.2L1704 974.2L1705 973.0L1706 971.1L1707 969.1L1708 967.4L1709 966.1L1710 964.8L1711 963.6L1712 962.4L1713 961.4L1714 960.2L1715 958.7L1716 957.3L1717 955.8L1718 953.8L1719 951.9L1720 950.1L1721 949.2L1722 948.2L1723 947.2L1724 946.0L1725 944.8L1726 943.9L1727 943.0L1728 941.9L1729 941.4L1730 941.1L1731 940.8L1732 940.5L1733 940.2L1734 939.9L1735 939.1L1736 937.8L1737 936.5L1738 935.0L1739 933.6L1740 932.1L1741 931.3L1742 930.4L1743 929.6L1744 929.4L1745 929.3L1746 929.4L1747 929.5L1748 928.1L1749 926.8L1750 925.5L1751 924.2L1752 922.0L1753 919.6L1754 917.1L1755 916.2L1756 915.1L1757 913.9L1758 914.0L1759 915.2L1760 916.5L1761 917.6L1762 919.4L1763 921.1L1764 922.4L1765 923.5L1766 925.1L1767 926.7L1768 928.9L1769 931.5L1770 934.1L1771 937.8L1772 942.5L1773 946.8L1774 951.2L1775 953.8L1776 956.3L1777 958.7L1778 960.9L1779 963.1L1780 965.3L1781 966.5L1782 967.4L1783 968.7L1784 970.4L1785 972.1L1786 973.7L1787 975.3L1788 977.3L1789 979.6L1790 981.6L1791 982.8L1792 984.0L1793 985.4L1794 986.7L1795 988.0L1796 988.9L1797 989.7L1798 990.6L1799 991.3L1800 991.6L1801 992.0L1802 992.4L1803 993.0L1804 993.7L1805 994.5L1806 995.3L1807 996.1L1808 996.8L1809 997.5L1810 997.9L1811 998.4L1812 998.9L1813 999.0L1814 998.6L1815 998.3L1816 999.0L1817 999.8L1818 1000.7L1819 1001.7L1820 1002.6L1821 1002.9L1822 1003.2L1823 1003.4L1824 1003.2L1825 1002.9L1826 1002.7L1827 1002.5L1828 1002.1L1829 1001.6L1830 1001.0L1831 1001.5L1832 1001.9L1833 1002.0L1834 1001.7L1835 1001.5L1836 1002.0L1837 1002.0L1838 1001.7L1839 1001.0L1840 1000.4L1841 1000.3L1842 1000.3L1843 1000.8L1844 1001.4L1845 1001.9L1846 1003.0L1847 1004.0L1848 1005.0L1849 1006.0L1850 1006.5L1851 1006.4L1852 1006.4L1853 1006.2L1854 1005.7L1855 1005.2L1856 1005.7L1857 1006.2L1858 1006.1L1859 1005.4L1860 1004.6L1861 1004.9L1862 1005.1L1863 1005.2L1864 1005.1L1865 1005.0L1866 1005.6L1867 1006.2L1868 1006.5L1869 1006.5L1870 1006.4L1871 1006.8L1872 1007.1L1873 1007.3L1874 1007.2L1875 1007.1L1876 1007.2L1877 1006.9L1878 1006.4L1879 1005.8L1880 1005.3L1881 1004.9L1882 1004.5L1883 1004.2L1884 1003.9L1885 1003.6L1886 1003.5L1887 1004.0L1888 1004.4L1889 1004.6L1890 1004.9L1891 1005.4L1892 1006.0L1893 1006.4L1894 1006.8L1895 1007.1L1896 1007.3L1897 1007.5L1898 1007.9L1899 1007.9L1900 1007.7L1901 1007.3L1902 1006.9L1903 1006.4L1904 1005.8L1905 1005.2L1906 1005.1L1907 1004.9L1908 1004.8L1909 1005.2L1910 1005.6L1911 1005.6L1912 1005.5L1913 1005.6L1914 1006.0L1915 1006.3L1916 1006.5L1917 1006.8L1918 1006.6L1919 1006.1L1920 1005.6L1921 1006.2L1922 1006.8L1923 1007.1L1924 1007.1L1925 1006.6L1926 1006.7L1927 1006.8L1928 1006.6L1929 1006.1L1930 1005.6L1931 1005.2L1932 1004.7L1933 1004.3L1934 1003.8L1935 1003.3L1936 1003.8L1937 1004.4L1938 1005.2L1939 1006.3L1940 1007.4L1941 1008.1L1942 1007.9L1943 1007.2L1944 1006.1L1945 1005.1L1946 1004.4L1947 1004.3L1948 1004.1L1949 1004.0L1950 1003.8L1951 1004.3L1952 1004.8L1953 1004.8L1954 1004.4L1955 1003.9L1956 1004.2L1957 1004.5L1958 1004.7L1959 1004.7L1960 1004.7L1961 1004.5L1962 1004.3L1963 1004.4L1964 1004.8L1965 1005.3L1966 1005.1L1967 1005.3L1968 1005.7L1969 1006.2L1970 1006.7L1971 1007.4L1972 1008.2L1973 1008.8L1974 1009.3L1975 1009.8L1976 1009.7L1977 1009.2L1978 1008.8L1979 1008.5L1980 1008.3L1981 1008.4L1982 1008.6L1983 1008.5L1984 1008.1L1985 1007.8L1986 1008.1L1987 1008.5L1988 1008.9L1989 1009.4L1990 1009.9L1991 1010.0L1992 1010.1L1993 1010.1L1994 1009.9L1995 1009.1L1996 1008.9L1997 1008.7L1998 1008.6L1999 1008.5L2000 1008.4L2001 1008.3L2002 1008.2L2003 1008.5L2004 1009.3L2005 1010.0L2006 1010.2L2007 1010.5L2008 1010.6L2009 1010.5L2010 1010.0L2011 1010.0L2012 1010.0L2013 1009.7L2014 1008.9L2015 1008.2" fill="none" stroke="#ff0000" stroke-width="7" stroke-linejoin="round" stroke-linecap="butt"/>
<path d="M158 1375.8L159 1375.8L160 1375.7L161 1375.2L162 1374.7L163 1374.5L164 1374.5L165 1374.5L166 1374.6L167 1374.6L168 1374.5L169 1374.3L170 1374.1L171 1374.1L172 1374.1L173 1373.8L174 1373.2L175 1373.0L176 1373.6L177 1374.2L178 1374.6L179 1374.8L180 1375.0L181 1376.0L182 1376.6L183 1376.3L184 1375.7L185 1375.0L186 1374.9L187 1374.8L188 1374.4L189 1373.8L190 1373.1L191 1373.2L192 1373.4L193 1373.4L194 1373.3L195 1373.2L196 1373.6L197 1374.6L198 1375.8L199 1377.1L200 1378.4L201 1378.8L202 1379.2L203 1378.2L204 1377.5L205 1376.8L206 1376.5L207 1376.2L208 1375.3L209 1373.9L210 1372.6L211 1372.1L212 1372.5L213 1373.1L214 1373.9L215 1374.8L216 1375.3L217 1375.9L218 1376.1L219 1375.9L220 1375.4L221 1375.8L222 1376.1L223 1376.2L224 1376.0L225 1375.9L226 1375.2L227 1374.4L228 1374.2L229 1374.4L230 1374.6L231 1374.3L232 1374.0L233 1373.8L234 1373.5L235 1373.5L236 1373.9L237 1374.3L238 1374.2L239 1373.5L240 1372.9L241 1373.1L242 1373.3L243 1373.6L244 1374.0L245 1374.4L246 1374.2L247 1373.9L248 1373.8L249 1373.8L250 1373.5L251 1373.6L252 1373.6L253 1373.6L254 1373.5L255 1373.4L256 1372.7L257 1372.0L258 1371.7L259 1372.0L260 1372.3L261 1372.3L262 1372.4L263 1372.5L264 1372.8L265 1373.0L266 1373.4L267 1373.4L268 1373.2L269 1373.0L270 1372.8L271 1372.0L272 1371.1L273 1370.8L274 1370.9L275 1371.0L276 1370.8L277 1370.8L278 1370.8L279 1370.6L280 1370.4L281 1370.5L282 1370.6L283 1370.8L284 1371.0L285 1371.3L286 1371.3L287 1371.4L288 1371.7L289 1372.3L290 1372.9L291 1372.8L292 1372.7L293 1372.5L294 1372.2L295 1372.0L296 1372.3L297 1372.5L298 1372.7L299 1372.8L300 1372.8L301 1372.5L302 1372.3L303 1373.0L304 1374.2L305 1375.4L306 1375.7L307 1376.0L308 1375.9L309 1375.0L310 1374.0L311 1373.3L312 1372.6L313 1372.0L314 1371.4L315 1370.9L316 1370.3L317 1370.3L318 1370.8L319 1371.3L320 1371.9L321 1372.1L322 1372.4L323 1372.6L324 1372.6L325 1372.7L326 1372.3L327 1371.6L328 1371.4L329 1371.6L330 1371.8L331 1371.1L332 1370.3L333 1369.7L334 1369.3L335 1368.8L336 1369.3L337 1370.1L338 1370.5L339 1370.3L340 1370.2L341 1370.6L342 1371.1L343 1371.7L344 1372.3L345 1372.9L346 1373.3L347 1373.7L348 1374.2L349 1374.7L350 1374.7L351 1374.0L352 1373.4L353 1372.8L354 1372.3L355 1371.8L356 1371.9L357 1372.1L358 1371.8L359 1371.2L360 1370.8L361 1370.9L362 1370.9L363 1371.0L364 1371.3L365 1371.5L366 1371.5L367 1371.5L368 1371.7L369 1372.2L370 1372.7L371 1372.2L372 1371.6L373 1371.7L374 1372.3L375 1372.9L376 1372.8L377 1372.8L378 1372.6L379 1372.3L380 1372.0L381 1372.0L382 1372.1L383 1372.5L384 1373.2L385 1373.9L386 1373.5L387 1373.0L388 1372.8L389 1372.8L390 1372.7L391 1372.6L392 1372.6L393 1372.6L394 1372.6L395 1372.7L396 1372.4L397 1372.2L398 1372.0L399 1371.9L400 1371.8L401 1371.8L402 1371.7L403 1371.4L404 1370.7L405 1370.3L406 1370.7L407 1371.1L408 1371.7L409 1372.6L410 1373.4L411 1373.4L412 1373.4L413 1373.7L414 1374.0L415 1374.0L416 1373.3L417 1372.5L418 1372.0L419 1371.8L420 1371.5L421 1371.0L422 1370.6L423 1370.7L424 1371.1L425 1371.6L426 1371.1L427 1370.6L428 1370.3L429 1370.2L430 1370.1L431 1370.1L432 1370.1L433 1370.1L434 1370.0L435 1369.6L436 1369.0L437 1368.4L438 1368.0L439 1367.7L440 1367.5L441 1367.5L442 1367.6L443 1367.5L444 1367.3L445 1367.1L446 1366.5L447 1365.9L448 1365.4L449 1365.3L450 1365.1L451 1364.9L452 1364.7L453 1364.3L454 1363.6L455 1362.9L456 1362.4L457 1362.2L458 1362.0L459 1361.8L460 1361.5L461 1362.1L462 1362.7L463 1362.1L464 1361.2L465 1360.3L466 1358.8L467 1357.4L468 1356.2L469 1355.4L470 1354.8L471 1354.8L472 1354.8L473 1354.4L474 1353.7L475 1353.0L476 1352.3L477 1351.6L478 1350.6L479 1349.7L480 1348.8L481 1348.0L482 1347.2L483 1346.5L484 1346.1L485 1345.6L486 1345.8L487 1346.3L488 1346.8L489 1347.3L490 1347.9L491 1348.4L492 1348.9L493 1349.3L494 1349.7L495 1350.1L496 1351.1L497 1352.0L498 1352.7L499 1353.2L500 1353.8L501 1355.2L502 1356.6L503 1357.8L504 1358.9L505 1359.9L506 1360.1L507 1360.3L508 1360.9L509 1361.8L510 1362.8L511 1363.3L512 1363.9L513 1364.6L514 1365.4L515 1366.2L516 1367.0L517 1367.7L518 1368.4L519 1368.7L520 1368.8L521 1368.8L522 1368.7L523 1368.9L524 1369.4L525 1369.8L526 1369.4L527 1369.0L528 1369.0L529 1369.5L530 1369.9L531 1369.5L532 1368.9L533 1368.5L534 1368.4L535 1368.3L536 1367.8L537 1367.3L538 1367.1L539 1367.8L540 1368.5L541 1369.3L542 1370.0L543 1370.6L544 1371.0L545 1371.4L546 1371.3L547 1371.1L548 1371.1L549 1371.3L550 1371.6L551 1371.0L552 1370.4L553 1369.9L554 1369.5L555 1369.1L556 1369.3L557 1369.5L558 1370.0L559 1370.6L560 1371.1L561 1371.6L562 1372.0L563 1372.5L564 1372.9L565 1373.3L566 1373.3L567 1373.0L568 1373.2L569 1373.8L570 1374.5L571 1374.4L572 1374.2L573 1374.3L574 1374.6L575 1374.9L576 1374.8L577 1374.6L578 1374.4L579 1374.1L580 1373.5L581 1373.8L582 1374.0L583 1373.7L584 1372.6L585 1371.6L586 1371.6L587 1371.6L588 1371.2L589 1371.1L590 1370.9L591 1370.9L592 1370.9L593 1371.0L594 1371.0L595 1371.1L596 1371.6L597 1372.1L598 1372.3L599 1372.1L600 1371.2L601 1370.7L602 1370.3L603 1369.8L604 1369.4L605 1369.0L606 1367.8L607 1367.4L608 1367.7L609 1368.1L610 1368.6L611 1369.4L612 1370.1L613 1370.9L614 1371.6L615 1372.4L616 1373.1L617 1373.8L618 1374.2L619 1373.5L620 1371.8L621 1370.8L622 1369.9L623 1368.7L624 1367.4L625 1366.1L626 1365.1L627 1365.2L628 1365.4L629 1365.6L630 1365.8L631 1366.3L632 1366.9L633 1366.9L634 1366.2L635 1365.4L636 1365.6L637 1365.8L638 1365.7L639 1365.4L640 1365.0L641 1364.9L642 1365.2L643 1365.4L644 1365.6L645 1365.7L646 1366.0L647 1366.4L648 1366.9L649 1366.3L650 1365.8L651 1364.1L652 1362.5L653 1361.2L654 1360.5L655 1359.7L656 1359.1L657 1358.9L658 1358.6L659 1358.3L660 1358.0L661 1358.4L662 1358.8L663 1358.2L664 1356.5L665 1354.7L666 1353.9L667 1353.0L668 1352.1L669 1350.4L670 1347.2L671 1343.8L672 1340.4L673 1337.3L674 1334.5L675 1331.8L676 1329.0L677 1324.1L678 1318.3L679 1311.7L680 1304.1L681 1295.5L682 1285.8L683 1274.9L684 1263.0L685 1250.0L686 1236.2L687 1221.7L688 1207.0L689 1192.3L690 1178.2L691 1165.4L692 1154.4L693 1146.0L694 1140.6L695 1138.7L696 1140.3L697 1145.4L698 1153.5L699 1164.2L700 1176.7L701 1190.5L702 1204.9L703 1219.4L704 1233.6L705 1247.1L706 1259.8L707 1271.4L708 1281.9L709 1291.4L710 1299.7L711 1307.0L712 1313.3L713 1318.7L714 1323.4L715 1326.9L716 1330.4L717 1333.9L718 1337.2L719 1341.0L720 1344.9L721 1348.3L722 1351.8L723 1351.7L724 1351.5L725 1351.2L726 1351.2L727 1351.2L728 1351.3L729 1351.3L730 1351.7L731 1352.6L732 1353.6L733 1354.5L734 1355.4L735 1356.4L736 1356.7L737 1357.2L738 1358.6L739 1360.3L740 1362.0L741 1363.2L742 1363.9L743 1364.2L744 1364.6L745 1365.0L746 1365.7L747 1366.3L748 1366.7L749 1366.9L750 1367.3L751 1368.2L752 1369.0L753 1369.7L754 1370.3L755 1370.8L756 1371.0L757 1370.9L758 1370.6L759 1370.4L760 1370.3L761 1370.8L762 1371.2L763 1371.6L764 1371.8L765 1372.0L766 1372.0L767 1372.0L768 1371.7L769 1371.2L770 1370.6L771 1370.7L772 1370.9L773 1371.0L774 1371.1L775 1371.2L776 1371.4L777 1371.5L778 1371.7L779 1371.8L780 1371.9L781 1371.8L782 1371.8L783 1371.9L784 1372.2L785 1372.5L786 1373.2L787 1374.2L788 1374.8L789 1374.8L790 1374.9L791 1375.6L792 1375.8L793 1375.5L794 1374.7L795 1373.9L796 1373.6L797 1373.3L798 1373.2L799 1373.2L800 1373.2L801 1373.3L802 1373.4L803 1373.0L804 1372.2L805 1371.6L806 1372.0L807 1372.3L808 1372.2L809 1371.4L810 1370.6L811 1371.1L812 1371.5L813 1371.6L814 1371.2L815 1370.9L816 1370.9L817 1371.0L818 1370.8L819 1370.4L820 1370.1L821 1369.8L822 1369.5L823 1369.5L824 1369.9L825 1370.3L826 1369.8L827 1369.4L828 1369.3L829 1369.5L830 1369.8L831 1369.9L832 1370.0L833 1370.0L834 1369.9L835 1370.1L836 1370.4L837 1370.7L838 1371.1L839 1371.4L840 1371.8L841 1372.8L842 1373.7L843 1373.5L844 1372.9L845 1372.2L846 1372.7L847 1373.2L848 1373.3L849 1372.9L850 1372.5L851 1372.0L852 1371.7L853 1372.2L854 1373.0L855 1373.9L856 1374.4L857 1374.9L858 1375.3L859 1375.6L860 1374.9L861 1374.8L862 1374.7L863 1374.1L864 1373.3L865 1372.4L866 1372.1L867 1371.8L868 1371.6L869 1371.4L870 1371.6L871 1371.4L872 1371.2L873 1371.1L874 1371.1L875 1371.1L876 1371.3L877 1371.4L878 1371.3L879 1371.2L880 1371.3L881 1371.8L882 1372.2L883 1372.6L884 1372.8L885 1373.1L886 1374.0L887 1374.8L888 1375.3L889 1375.5L890 1375.6L891 1375.7L892 1375.3L893 1375.2L894 1375.4L895 1375.6L896 1375.0L897 1374.3L898 1374.1L899 1374.5L900 1374.8L901 1374.1L902 1373.3L903 1372.6L904 1372.1L905 1371.6L906 1370.8L907 1370.1L908 1369.5L909 1370.3L910 1371.0L911 1371.8L912 1372.6L913 1373.4L914 1374.3L915 1374.4L916 1374.6L917 1374.8L918 1374.7L919 1374.3L920 1374.0L921 1374.3L922 1374.6L923 1374.7L924 1374.7L925 1374.7L926 1375.0L927 1375.2L928 1375.5L929 1375.7L930 1375.9L931 1375.8L932 1375.8L933 1375.5L934 1375.1L935 1374.7L936 1373.7L937 1372.7L938 1371.9L939 1371.2L940 1370.5L941 1370.4L942 1372.0L943 1373.3L944 1374.3L945 1375.4L946 1375.1L947 1374.9L948 1374.4L949 1373.6L950 1372.8L951 1372.7L952 1372.5L953 1372.9L954 1373.5L955 1374.0L956 1374.7L957 1375.4L958 1376.2L959 1376.3L960 1376.2L961 1375.9L962 1375.6L963 1375.3L964 1374.9L965 1374.6L966 1374.1L967 1373.6L968 1373.1L969 1372.9L970 1372.9L971 1373.2L972 1373.5L973 1373.7L974 1374.0L975 1374.3L976 1374.0L977 1373.7L978 1373.5L979 1373.5L980 1373.4L981 1373.6L982 1373.7L983 1373.8L984 1373.9L985 1374.0L986 1374.4L987 1374.4L988 1374.2L989 1373.9L990 1373.6L991 1373.7L992 1373.9L993 1373.6L994 1372.8L995 1372.1L996 1372.8L997 1373.6L998 1374.1L999 1374.4L1000 1374.8L1001 1375.4L1002 1376.0L1003 1376.9L1004 1377.7L1005 1377.7L1006 1377.1L1007 1376.5L1008 1375.7L1009 1374.8L1010 1373.8L1011 1373.8L1012 1373.8L1013 1373.6L1014 1373.2L1015 1372.7L1016 1372.4L1017 1372.0L1018 1372.1L1019 1372.5L1020 1373.0L1021 1372.2L1022 1371.7L1023 1371.6L1024 1371.9L1025 1372.2L1026 1372.9L1027 1373.7L1028 1374.2L1029 1374.3L1030 1374.5L1031 1374.5L1032 1374.5L1033 1375.0L1034 1375.9L1035 1376.8L1036 1377.1L1037 1377.5L1038 1377.7L1039 1377.8L1040 1377.9L1041 1377.5L1042 1377.0L1043 1376.7L1044 1376.5L1045 1376.3L1046 1375.9L1047 1375.6L1048 1375.1L1049 1374.5L1050 1373.9L1051 1374.0L1052 1374.0L1053 1373.9L1054 1373.6L1055 1373.3L1056 1373.2L1057 1373.4L1058 1373.6L1059 1373.6L1060 1373.7L1061 1374.1L1062 1374.5L1063 1374.5L1064 1374.1L1065 1373.7L1066 1373.8L1067 1373.9L1068 1374.1L1069 1374.5L1070 1374.9L1071 1374.8L1072 1374.7L1073 1374.9L1074 1375.4L1075 1375.6L1076 1374.8L1077 1374.0L1078 1373.4L1079 1373.1L1080 1372.7L1081 1372.5L1082 1372.4L1083 1372.2L1084 1373.2L1085 1374.2L1086 1375.0L1087 1375.8L1088 1376.6L1089 1377.0L1090 1376.2L1091 1375.3L1092 1374.5L1093 1374.0L1094 1373.6L1095 1373.6L1096 1373.5L1097 1373.5L1098 1373.7L1099 1374.2L1100 1374.7L1101 1374.3L1102 1374.0L1103 1374.2L1104 1375.0L1105 1375.7L1106 1375.9L1107 1375.9L1108 1375.6L1109 1375.2L1110 1374.7L1111 1375.2L1112 1375.7L1113 1375.9L1114 1375.9L1115 1375.9L1116 1375.3L1117 1374.7L1118 1374.4L1119 1374.3L1120 1374.1L1121 1373.4L1122 1372.7L1123 1372.2L1124 1371.9L1125 1371.6L1126 1371.2L1127 1370.8L1128 1371.1L1129 1371.1L1130 1371.2L1131 1371.0L1132 1370.8L1133 1371.1L1134 1371.8L1135 1372.6L1136 1372.4L1137 1372.6L1138 1373.0L1139 1373.7L1140 1374.4L1141 1375.0L1142 1375.3L1143 1375.3L1144 1375.3L1145 1375.4L1146 1375.4L1147 1375.4L1148 1375.4L1149 1375.4L1150 1375.4L1151 1375.5L1152 1375.7L1153 1375.7L1154 1375.8L1155 1375.8L1156 1375.6L1157 1375.5L1158 1375.4L1159 1375.4L1160 1375.6L1161 1375.4L1162 1375.3L1163 1375.3L1164 1375.5L1165 1375.6L1166 1376.3L1167 1376.3L1168 1375.4L1169 1374.3L1170 1373.3L1171 1371.8L1172 1370.2L1173 1369.8L1174 1370.5L1175 1371.1L1176 1371.9L1177 1372.6L1178 1373.5L1179 1374.2L1180 1374.7L1181 1374.9L1182 1375.1L1183 1375.3L1184 1375.5L1185 1375.8L1186 1375.7L1187 1375.7L1188 1375.8L1189 1376.2L1190 1376.5L1191 1376.8L1192 1377.1L1193 1377.1L1194 1376.8L1195 1376.5L1196 1376.4L1197 1376.4L1198 1376.7L1199 1377.3L1200 1378.0L1201 1377.6L1202 1377.3L1203 1377.4L1204 1378.0L1205 1378.6L1206 1378.5L1207 1378.6L1208 1378.7L1209 1378.8L1210 1378.9L1211 1379.0L1212 1379.0L1213 1379.4L1214 1380.3L1215 1381.2L1216 1380.6L1217 1380.0L1218 1379.6L1219 1379.4L1220 1379.2L1221 1379.2L1222 1379.2L1223 1378.9L1224 1378.3L1225 1377.7L1226 1377.3L1227 1376.9L1228 1376.5L1229 1376.0L1230 1375.6L1231 1375.5L1232 1375.7L1233 1376.0L1234 1376.4L1235 1376.7L1236 1376.5L1237 1376.3L1238 1376.3L1239 1376.6L1240 1377.0L1241 1377.1L1242 1377.2L1243 1377.4L1244 1377.6L1245 1377.8L1246 1377.4L1247 1377.0L1248 1376.9L1249 1376.9L1250 1377.0L1251 1377.2L1252 1377.4L1253 1377.5L1254 1377.4L1255 1377.3L1256 1377.6L1257 1377.8L1258 1378.1L1259 1378.4L1260 1378.7L1261 1378.7L1262 1378.8L1263 1378.8L1264 1378.8L1265 1378.8L1266 1378.9L1267 1379.1L1268 1379.1L1269 1379.0L1270 1378.9L1271 1379.0L1272 1379.0L1273 1378.8L1274 1378.2L1275 1377.6L1276 1377.7L1277 1377.6L1278 1377.2L1279 1376.7L1280 1376.3L1281 1376.3L1282 1376.2L1283 1376.0L1284 1375.7L1285 1375.4L1286 1375.5L1287 1375.5L1288 1375.6L1289 1375.6L1290 1375.6L1291 1376.0L1292 1376.4L1293 1376.5L1294 1376.4L1295 1376.2L1296 1376.8L1297 1377.7L1298 1378.2L1299 1378.5L1300 1378.7L1301 1378.6L1302 1378.4L1303 1378.1L1304 1377.7L1305 1377.3L1306 1376.7L1307 1376.0L1308 1375.8L1309 1376.2L1310 1376.5L1311 1377.4L1312 1378.3L1313 1379.2L1314 1379.6L1315 1379.6L1316 1380.0L1317 1380.4L1318 1380.4L1319 1379.9L1320 1379.5L1321 1380.0L1322 1380.6L1323 1380.7L1324 1380.4L1325 1380.0L1326 1380.2L1327 1380.5L1328 1380.4L1329 1380.2L1330 1379.9L1331 1380.3L1332 1380.2L1333 1379.8L1334 1379.1L1335 1378.3L1336 1377.7L1337 1377.0L1338 1376.7L1339 1376.7L1340 1376.6L1341 1376.1L1342 1375.5L1343 1375.0L1344 1374.6L1345 1374.8L1346 1374.8L1347 1374.9L1348 1375.1L1349 1375.5L1350 1375.8L1351 1376.3L1352 1376.8L1353 1377.3L1354 1377.9L1355 1378.4L1356 1378.5L1357 1378.5L1358 1378.6L1359 1378.9L1360 1379.1L1361 1378.7L1362 1378.3L1363 1378.1L1364 1378.1L1365 1378.2L1366 1377.9L1367 1377.6L1368 1377.5L1369 1377.6L1370 1377.6L1371 1377.0L1372 1376.3L1373 1376.1L1374 1376.1L1375 1376.1L1376 1376.8L1377 1377.5L1378 1377.7L1379 1377.3L1380 1377.0L1381 1377.3L1382 1377.0L1383 1376.6L1384 1376.1L1385 1375.6L1386 1375.0L1387 1374.3L1388 1374.0L1389 1374.0L1390 1374.3L1391 1374.5L1392 1374.8L1393 1374.9L1394 1375.0L1395 1375.2L1396 1375.5L1397 1375.8L1398 1376.4L1399 1377.0L1400 1377.6L1401 1378.1L1402 1378.7L1403 1379.2L1404 1379.9L1405 1380.2L1406 1380.5L1407 1380.7L1408 1380.6L1409 1380.1L1410 1379.6L1411 1379.9L1412 1380.1L1413 1380.4L1414 1380.6L1415 1380.8L1416 1380.7L1417 1380.6L1418 1380.2L1419 1379.6L1420 1378.9L1421 1379.0L1422 1379.1L1423 1379.2L1424 1379.2L1425 1379.2L1426 1379.0L1427 1378.7L1428 1378.7L1429 1379.0L1430 1379.4L1431 1379.0L1432 1378.6L1433 1378.5L1434 1378.5L1435 1378.5L1436 1378.5L1437 1378.6L1438 1378.8L1439 1379.2L1440 1379.5L1441 1379.6L1442 1379.6L1443 1379.5L1444 1379.4L1445 1379.4L1446 1379.7L1447 1379.9L1448 1379.9L1449 1379.5L1450 1379.1L1451 1379.2L1452 1379.3L1453 1379.6L1454 1379.8L1455 1380.1L1456 1379.4L1457 1378.7L1458 1378.2L1459 1377.8L1460 1377.4L1461 1377.5L1462 1377.8L1463 1378.4L1464 1379.2L1465 1380.0L1466 1380.0L1467 1380.0L1468 1379.6L1469 1379.0L1470 1378.3L1471 1377.3L1472 1376.4L1473 1375.6L1474 1374.9L1475 1374.3L1476 1374.4L1477 1374.6L1478 1374.7L1479 1374.7L1480 1374.7L1481 1374.4L1482 1374.1L1483 1373.7L1484 1373.2L1485 1372.6L1486 1372.9L1487 1373.1L1488 1373.1L1489 1372.9L1490 1372.7L1491 1372.9L1492 1373.0L1493 1373.0L1494 1373.0L1495 1372.9L1496 1372.5L1497 1372.1L1498 1371.8L1499 1372.1L1500 1372.5L1501 1373.1L1502 1373.7L1503 1374.3L1504 1374.9L1505 1375.6L1506 1375.6L1507 1375.6L1508 1375.9L1509 1376.5L1510 1377.2L1511 1377.2L1512 1377.1L1513 1377.0L1514 1376.9L1515 1376.7L1516 1376.2L1517 1375.6L1518 1375.3L1519 1375.3L1520 1375.0L1521 1374.4L1522 1373.7L1523 1373.3L1524 1373.1L1525 1372.9L1526 1372.4L1527 1371.8L1528 1371.7L1529 1372.5L1530 1373.3L1531 1373.9L1532 1374.5L1533 1374.9L1534 1375.1L1535 1375.3L1536 1375.6L1537 1375.8L1538 1375.8L1539 1375.4L1540 1375.1L1541 1375.6L1542 1376.1L1543 1376.2L1544 1375.8L1545 1375.5L1546 1375.8L1547 1376.3L1548 1376.7L1549 1377.0L1550 1377.2L1551 1377.1L1552 1377.1L1553 1377.3L1554 1377.7L1555 1378.1L1556 1378.2L1557 1378.3L1558 1378.2L1559 1377.8L1560 1377.3L1561 1377.2L1562 1377.0L1563 1377.0L1564 1377.1L1565 1377.4L1566 1377.7L1567 1378.0L1568 1378.4L1569 1378.8L1570 1379.2L1571 1379.2L1572 1379.1L1573 1379.3L1574 1379.8L1575 1379.9L1576 1380.0L1577 1380.1L1578 1380.0L1579 1379.6L1580 1379.3L1581 1378.9L1582 1378.6L1583 1378.3L1584 1378.0L1585 1377.8L1586 1378.2L1587 1378.6L1588 1378.8L1589 1378.9L1590 1379.1L1591 1379.1L1592 1379.0L1593 1379.1L1594 1379.3L1595 1379.6L1596 1379.8L1597 1380.0L1598 1380.0L1599 1379.7L1600 1379.1L1601 1378.4L1602 1377.6L1603 1377.0L1604 1376.6L1605 1376.1L1606 1375.8L1607 1375.5L1608 1375.6L1609 1376.0L1610 1376.4L1611 1376.8L1612 1377.1L1613 1377.7L1614 1378.6L1615 1379.5L1616 1380.0L1617 1380.4L1618 1380.0L1619 1379.2L1620 1378.4L1621 1378.2L1622 1378.0L1623 1378.0L1624 1378.2L1625 1378.4L1626 1377.7L1627 1377.1L1628 1376.9L1629 1377.3L1630 1377.7L1631 1377.6L1632 1377.6L1633 1377.3L1634 1376.7L1635 1376.1L1636 1375.9L1637 1375.6L1638 1375.5L1639 1375.6L1640 1375.7L1641 1375.8L1642 1376.0L1643 1375.9L1644 1375.5L1645 1375.0L1646 1374.4L1647 1373.7L1648 1373.6L1649 1373.8L1650 1374.1L1651 1373.3L1652 1372.5L1653 1371.9L1654 1371.6L1655 1371.4L1656 1371.7L1657 1372.3L1658 1372.7L1659 1372.9L1660 1373.2L1661 1373.0L1662 1372.8L1663 1372.2L1664 1371.8L1665 1371.3L1666 1370.9L1667 1370.4L1668 1370.0L1669 1369.7L1670 1369.3L1671 1368.9L1672 1368.4L1673 1368.0L1674 1367.7L1675 1367.8L1676 1367.8L1677 1367.8L1678 1367.5L1679 1366.9L1680 1366.3L1681 1366.3L1682 1366.4L1683 1366.3L1684 1366.2L1685 1366.0L1686 1365.4L1687 1364.4L1688 1363.7L1689 1363.2L1690 1362.7L1691 1361.8L1692 1361.0L1693 1360.4L1694 1360.1L1695 1359.9L1696 1359.1L1697 1358.4L1698 1357.9L1699 1357.7L1700 1357.4L1701 1356.7L1702 1356.1L1703 1355.4L1704 1354.6L1705 1353.9L1706 1353.5L1707 1353.1L1708 1352.1L1709 1350.6L1710 1349.2L1711 1347.8L1712 1346.5L1713 1345.4L1714 1344.5L1715 1343.6L1716 1342.4L1717 1341.2L1718 1339.8L1719 1338.2L1720 1336.5L1721 1335.5L1722 1334.5L1723 1333.8L1724 1332.6L1725 1331.4L1726 1330.9L1727 1330.4L1728 1329.5L1729 1328.3L1730 1327.1L1731 1326.4L1732 1325.7L1733 1324.9L1734 1324.0L1735 1323.2L1736 1323.1L1737 1323.0L1738 1322.7L1739 1322.2L1740 1321.8L1741 1321.3L1742 1320.3L1743 1319.3L1744 1318.3L1745 1317.3L1746 1315.9L1747 1314.4L1748 1312.6L1749 1311.1L1750 1309.5L1751 1307.7L1752 1306.7L1753 1306.2L1754 1305.7L1755 1305.3L1756 1305.2L1757 1305.2L1758 1304.7L1759 1303.9L1760 1303.0L1761 1302.7L1762 1302.9L1763 1303.7L1764 1304.5L1765 1305.3L1766 1306.7L1767 1308.5L1768 1310.2L1769 1311.7L1770 1313.5L1771 1315.8L1772 1318.0L1773 1320.5L1774 1323.1L1775 1325.7L1776 1327.8L1777 1329.8L1778 1332.0L1779 1334.2L1780 1336.3L1781 1338.1L1782 1339.9L1783 1342.0L1784 1344.2L1785 1346.4L1786 1348.6L1787 1350.7L1788 1353.0L1789 1355.6L1790 1358.1L1791 1360.1L1792 1360.3L1793 1360.9L1794 1361.9L1795 1362.9L1796 1362.7L1797 1362.6L1798 1362.8L1799 1363.3L1800 1364.1L1801 1365.9L1802 1367.6L1803 1369.0L1804 1369.6L1805 1370.3L1806 1370.8L1807 1371.3L1808 1371.9L1809 1372.5L1810 1373.1L1811 1373.3L1812 1373.5L1813 1374.1L1814 1374.9L1815 1375.8L1816 1375.6L1817 1375.3L1818 1375.2L1819 1375.3L1820 1375.3L1821 1375.7L1822 1376.1L1823 1376.2L1824 1376.1L1825 1376.0L1826 1376.3L1827 1376.9L1828 1377.3L1829 1377.6L1830 1377.8L1831 1377.9L1832 1378.0L1833 1378.3L1834 1378.8L1835 1378.8L1836 1378.6L1837 1378.4L1838 1378.2L1839 1378.0L1840 1377.8L1841 1378.0L1842 1378.3L1843 1378.4L1844 1378.3L1845 1378.1L1846 1378.4L1847 1378.7L1848 1378.9L1849 1379.0L1850 1379.2L1851 1378.9L1852 1378.8L1853 1379.1L1854 1379.8L1855 1380.4L1856 1381.1L1857 1381.7L1858 1381.7L1859 1380.8L1860 1379.9L1861 1379.6L1862 1379.3L1863 1379.1L1864 1379.3L1865 1379.9L1866 1380.2L1867 1380.5L1868 1380.8L1869 1381.2L1870 1381.5L1871 1381.8L1872 1381.9L1873 1382.0L1874 1382.3L1875 1382.6L1876 1382.1L1877 1381.7L1878 1381.7L1879 1382.0L1880 1382.3L1881 1382.6L1882 1383.0L1883 1382.9L1884 1382.6L1885 1382.2L1886 1382.0L1887 1381.7L1888 1381.9L1889 1382.7L1890 1383.7L1891 1383.7L1892 1383.8L1893 1383.9L1894 1384.0L1895 1384.2L1896 1384.5L1897 1384.8L1898 1384.7L1899 1384.4L1900 1384.2L1901 1383.9L1902 1383.7L1903 1383.3L1904 1382.9L1905 1382.4L1906 1382.5L1907 1382.5L1908 1382.6L1909 1382.9L1910 1383.2L1911 1383.4L1912 1383.6L1913 1383.8L1914 1383.9L1915 1384.0L1916 1383.3L1917 1382.6L1918 1382.3L1919 1382.5L1920 1382.6L1921 1382.0L1922 1381.9L1923 1382.3L1924 1383.1L1925 1384.0L1926 1383.9L1927 1383.9L1928 1384.1L1929 1384.2L1930 1384.4L1931 1383.9L1932 1383.4L1933 1383.3L1934 1383.5L1935 1383.6L1936 1383.7L1937 1383.6L1938 1383.2L1939 1382.5L1940 1381.8L1941 1381.5L1942 1381.2L1943 1381.0L1944 1381.0L1945 1381.8L1946 1381.9L1947 1382.1L1948 1382.7L1949 1383.7L1950 1384.0L1951 1383.5L1952 1383.0L1953 1382.8L1954 1382.9L1955 1383.3L1956 1382.7L1957 1382.1L1958 1381.9L1959 1382.0L1960 1382.1L1961 1382.6L1962 1383.2L1963 1383.3L1964 1383.1L1965 1382.8L1966 1383.3L1967 1383.8L1968 1384.0L1969 1384.0L1970 1383.9L1971 1383.7L1972 1383.4L1973 1383.2L1974 1383.1L1975 1383.0L1976 1382.5L1977 1382.1L1978 1381.8L1979 1381.7L1980 1381.6L1981 1381.6L1982 1381.6L1983 1381.6L1984 1381.8L1985 1382.1L1986 1382.0L1987 1381.8L1988 1381.9L1989 1382.3L1990 1382.6L1991 1383.1L1992 1383.5L1993 1383.9L1994 1384.2L1995 1384.5L1996 1384.5L1997 1384.4L1998 1384.2L1999 1384.2L2000 1384.2L2001 1384.1L2002 1384.0L2003 1384.0L2004 1383.9L2005 1383.9L2006 1384.1L2007 1384.3L2008 1384.3L2009 1384.1L2010 1383.9L2011 1384.6L2012 1385.4L2013 1385.8L2014 1386.0L2015 1386.1" fill="none" stroke="#000000" stroke-width="7" stroke-linejoin="round" stroke-linecap="butt"/>
<svg x="1473" y="52" width="545" height="406" overflow="hidden"><g transform="translate(-1473,-52)">
<path d="M1473.0 391.5 L1486.0 390.5 L1509.8 381.5 L1529.7 387.5 L1535.7 386.5 L1557.6 365.6 L1567.5 370.6 L1583.4 363.6 L1591.4 357.7 L1601.3 357.7 L1617.3 340.7 L1629.2 329.8 L1641.1 321.8 L1661.0 302.9 L1679.0 277.1 L1692.9 255.2 L1708.8 229.3 L1720.7 217.4 L1734.7 207.4 L1742.6 191.5 L1750.0 185.5 L1765.9 175.6 L1773.8 155.7 L1785.8 135.8 L1797.7 121.8 L1807.7 117.9 L1815.6 108.9 L1825.6 117.9 L1831.5 141.7 L1841.5 167.6 L1855.4 203.4 L1867.4 229.3 L1877.3 255.2 L1883.3 281.0 L1893.2 308.9 L1907.2 338.8 L1925.1 343.7 L1935.0 354.7 L1941.0 370.6 L1954.9 380.5 L1974.8 395.5 L1998.7 396.5 L2012.6 397.5" fill="none" stroke="#000000" stroke-width="4.5" stroke-linejoin="round"/>
<path d="M1473.0 387.5 L1482.0 386.5 L1493.9 378.6 L1509.8 376.6 L1533.7 370.6 L1545.6 372.6 L1561.5 370.6 L1569.5 366.6 L1585.4 343.7 L1593.4 343.7 L1609.3 332.8 L1621.2 320.8 L1637.2 311.9 L1653.1 291.0 L1669.0 275.1 L1679.0 257.2 L1692.9 229.3 L1708.8 213.4 L1726.7 188.5 L1734.7 188.5 L1742.6 189.5 L1750.0 173.6 L1759.9 161.6 L1775.8 156.7 L1785.8 137.8 L1797.7 117.9 L1801.7 107.9 L1809.7 106.9 L1819.6 123.8 L1825.6 137.8 L1833.5 151.7 L1845.5 183.5 L1853.4 213.4 L1863.4 243.2 L1879.3 281.0 L1891.2 312.9 L1905.2 334.8 L1923.1 358.7 L1935.0 365.6 L1951.0 372.6 L1968.9 384.5 L1982.8 386.5 L2000.7 395.5 L2015.6 389.5" fill="none" stroke="#ff0000" stroke-width="4.5" stroke-linejoin="round"/>
<path d="M1473.0 384.5 L1482.0 388.5 L1491.9 387.5 L1509.8 377.6 L1523.7 364.6 L1533.7 362.6 L1541.6 364.6 L1557.6 356.7 L1565.5 357.7 L1575.5 361.6 L1581.4 358.7 L1599.4 335.8 L1615.3 338.8 L1629.2 326.8 L1649.1 300.9 L1661.0 281.0 L1679.0 245.2 L1686.9 229.3 L1690.9 217.4 L1704.8 211.4 L1716.8 212.4 L1732.7 195.5 L1740.6 179.6 L1750.0 169.6 L1755.9 161.6 L1765.9 155.7 L1783.8 135.8 L1791.7 121.8 L1799.7 112.9 L1807.7 109.9 L1815.6 113.9 L1825.6 127.8 L1837.5 153.7 L1847.5 177.6 L1853.4 197.5 L1863.4 217.4 L1875.3 245.2 L1883.3 273.1 L1893.2 300.9 L1905.2 324.8 L1915.1 338.8 L1929.0 352.7 L1941.0 366.6 L1958.9 376.6 L1974.8 384.5 L1982.8 385.5 L1998.7 392.5 L2008.7 391.5 L2015.6 388.5" fill="none" stroke="#0000ff" stroke-width="4.5" stroke-linejoin="round"/>
</g></svg>
<text transform="translate(341.85 1509) scale(1 1.0750)" font-size="70.60" text-anchor="middle">1200</text>
<text transform="translate(713.75 1509) scale(1 1.0750)" font-size="70.60" text-anchor="middle">1600</text>
<text transform="translate(1085.65 1509) scale(1 1.0750)" font-size="70.60" text-anchor="middle">2000</text>
<text transform="translate(1457.55 1509) scale(1 1.0750)" font-size="70.60" text-anchor="middle">2400</text>
<text transform="translate(1829.45 1509) scale(1 1.0750)" font-size="70.60" text-anchor="middle">2800</text>
<text transform="translate(172.49 596.38) scale(1 1.0076)" font-size="70.34" fill="#0000ff">Pd/G-P</text>
<text transform="translate(169.98 972.38) scale(1 1.0061)" font-size="70.45" fill="#ff0000">Pd/G-H</text>
<text transform="translate(169.91 1322.52) scale(1 1.0494)" font-size="70.48" fill="#000">Graphene</text>
<text transform="translate(467.24 574.00) scale(1 1.0592)" font-size="72.59" fill="#000">D</text>
<text transform="translate(670.12 320.03) scale(1 1.0641)" font-size="72.74" fill="#000">G</text>
<text transform="translate(1717.50 524.80) scale(1 1.0596)" font-size="71.52" fill="#000">2D</text>
<text transform="translate(1649.54 168.80) scale(1 1.0353)" font-size="67.53" fill="#000">2D</text>
<text transform="translate(769.14 571.80) skewX(-19) scale(1 1.0830)" font-size="71.0" fill="#0000ff">I</text><text transform="translate(788.05 600.80) scale(1 1.0461)" font-size="44.05" fill="#0000ff">D</text><text transform="translate(817.23 570.87) scale(1 0.9241)" font-size="77.13" fill="#0000ff">/</text><text transform="translate(837.44 571.80) skewX(-19) scale(1 1.0830)" font-size="71.0" fill="#0000ff">I</text><text transform="translate(856.02 600.84) scale(1 1.0640)" font-size="43.41" fill="#0000ff">G</text><text transform="translate(888.32 572.04) scale(1 1.0802)" font-size="70.22" fill="#0000ff">=0.25</text>
<text transform="translate(772.44 950.70) skewX(-19) scale(1 1.0830)" font-size="71.0" fill="#ff0000">I</text><text transform="translate(791.35 979.70) scale(1 1.0461)" font-size="44.05" fill="#ff0000">D</text><text transform="translate(820.53 949.77) scale(1 0.9241)" font-size="77.13" fill="#ff0000">/</text><text transform="translate(840.74 950.70) skewX(-19) scale(1 1.0830)" font-size="71.0" fill="#ff0000">I</text><text transform="translate(859.32 979.74) scale(1 1.0640)" font-size="43.41" fill="#ff0000">G</text><text transform="translate(891.65 950.94) scale(1 1.0903)" font-size="69.57" fill="#ff0000">=0.24</text>
<text transform="translate(769.34 1316.80) skewX(-19) scale(1 1.0830)" font-size="71.0" fill="#000">I</text><text transform="translate(788.25 1345.80) scale(1 1.0461)" font-size="44.05" fill="#000">D</text><text transform="translate(817.43 1315.87) scale(1 0.9241)" font-size="77.13" fill="#000">/</text><text transform="translate(837.64 1316.80) skewX(-19) scale(1 1.0830)" font-size="71.0" fill="#000">I</text><text transform="translate(856.22 1345.84) scale(1 1.0640)" font-size="43.41" fill="#000">G</text><text transform="translate(888.52 1317.04) scale(1 1.0789)" font-size="70.30" fill="#000">=0.28</text>
<text transform="translate(754.81 1622.90) scale(1 1.0685)" font-size="77.40">Raman shift</text>
<text transform="translate(1214.36 1622.70) scale(0.8888 1.0123)" font-size="77.40">(</text>
<text transform="translate(1239.98 1622.90) scale(1 1.0685)" font-size="77.40">cm</text>
<text transform="translate(1349.90 1580.72) scale(1 0.9687)" font-size="51.18" fill="#000">-</text>
<text transform="translate(1366.28 1579.8)" font-size="50.58">1</text>
<text transform="translate(1393.73 1622.70) scale(0.8751 1.0123)" font-size="77.40">)</text>
<text transform="translate(84.30 1028.07) rotate(-90) scale(1 1.0583)" font-size="78.70">Intensity</text>
<text transform="translate(83.60 678.25) rotate(-90) scale(0.8516 0.9955)" font-size="78.70">(</text>
<text transform="translate(84.30 651.08) rotate(-90) scale(1 1.0583)" font-size="78.70">a.u.</text>
<text transform="translate(83.73 512.17) rotate(-90) scale(0.8561 0.9942)" font-size="78.70">)</text>
<rect x="266.77" y="1500.58" width="13.00" height="9.62" fill="#fff"/>
<rect x="289.44" y="1500.58" width="12.08" height="9.62" fill="#fff"/>
<rect x="638.67" y="1500.58" width="13.00" height="9.62" fill="#fff"/>
<rect x="661.34" y="1500.58" width="12.08" height="9.62" fill="#fff"/>
<rect x="1368.47" y="1573.99" width="9.60" height="7.01" fill="#fff"/>
<rect x="1385.00" y="1573.99" width="8.00" height="7.01" fill="#fff"/>
</svg></body></html>
